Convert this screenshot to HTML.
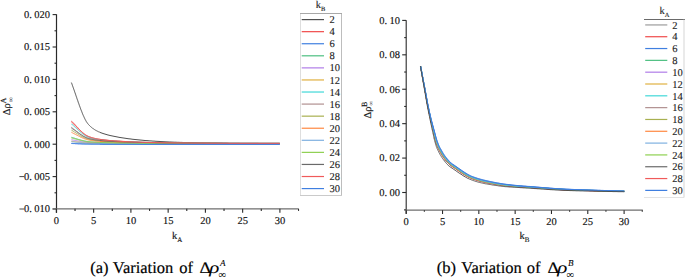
<!DOCTYPE html>
<html><head><meta charset="utf-8"><style>
html,body{margin:0;padding:0;background:#fff;}
svg{display:block;}
text{font-family:"Liberation Serif", serif;fill:#111;text-rendering:geometricPrecision;}
.tk{font-size:10.5px;fill:#111;stroke:#111;stroke-width:0.15px;}
.lg{font-size:10.5px;fill:#222;stroke:#222;stroke-width:0.12px;}
.al{font-size:10.5px;fill:#111;stroke:#111;stroke-width:0.15px;}
.al2{fill:#333;}
.cap{font-size:16.5px;fill:#000;stroke:#000;stroke-width:0.18px;}
</style></head><body>
<svg width="685" height="277" viewBox="0 0 685 277">
<rect width="685" height="277" fill="#fff"/>
<line x1="56.5" y1="14.3" x2="56.5" y2="212.8" stroke="#2a2a2a" stroke-width="1.2"/>
<line x1="52.6" y1="14.60" x2="56.5" y2="14.60" stroke="#2a2a2a" stroke-width="1.1"/>
<line x1="54.5" y1="30.80" x2="56.5" y2="30.80" stroke="#2a2a2a" stroke-width="1.1"/>
<line x1="52.6" y1="47.00" x2="56.5" y2="47.00" stroke="#2a2a2a" stroke-width="1.1"/>
<line x1="54.5" y1="63.20" x2="56.5" y2="63.20" stroke="#2a2a2a" stroke-width="1.1"/>
<line x1="52.6" y1="79.40" x2="56.5" y2="79.40" stroke="#2a2a2a" stroke-width="1.1"/>
<line x1="54.5" y1="95.60" x2="56.5" y2="95.60" stroke="#2a2a2a" stroke-width="1.1"/>
<line x1="52.6" y1="111.80" x2="56.5" y2="111.80" stroke="#2a2a2a" stroke-width="1.1"/>
<line x1="54.5" y1="128.00" x2="56.5" y2="128.00" stroke="#2a2a2a" stroke-width="1.1"/>
<line x1="52.6" y1="144.20" x2="56.5" y2="144.20" stroke="#2a2a2a" stroke-width="1.1"/>
<line x1="54.5" y1="160.40" x2="56.5" y2="160.40" stroke="#2a2a2a" stroke-width="1.1"/>
<line x1="52.6" y1="176.60" x2="56.5" y2="176.60" stroke="#2a2a2a" stroke-width="1.1"/>
<line x1="54.5" y1="192.80" x2="56.5" y2="192.80" stroke="#2a2a2a" stroke-width="1.1"/>
<line x1="52.6" y1="209.00" x2="56.5" y2="209.00" stroke="#2a2a2a" stroke-width="1.1"/>
<text x="50" y="17.90" text-anchor="end" class="tk">0.<tspan dx="2.4">020</tspan></text>
<text x="50" y="50.30" text-anchor="end" class="tk">0.<tspan dx="2.4">015</tspan></text>
<text x="50" y="82.70" text-anchor="end" class="tk">0.<tspan dx="2.4">010</tspan></text>
<text x="50" y="115.10" text-anchor="end" class="tk">0.<tspan dx="2.4">005</tspan></text>
<text x="50" y="147.50" text-anchor="end" class="tk">0.<tspan dx="2.4">000</tspan></text>
<text x="50" y="179.90" text-anchor="end" class="tk">0.<tspan dx="2.4">005</tspan></text>
<line x1="19.4" y1="176.60" x2="24.2" y2="176.60" stroke="#333" stroke-width="0.9"/>
<text x="50" y="212.30" text-anchor="end" class="tk">0.<tspan dx="2.4">010</tspan></text>
<line x1="19.4" y1="209.00" x2="24.2" y2="209.00" stroke="#333" stroke-width="0.9"/>
<line x1="52.6" y1="208.8" x2="298.6" y2="208.8" stroke="#6e6e6e" stroke-width="1.3"/>
<line x1="56.40" y1="208.8" x2="56.40" y2="212.8" stroke="#2a2a2a" stroke-width="1.1"/>
<line x1="75.03" y1="208.8" x2="75.03" y2="210.9" stroke="#2a2a2a" stroke-width="1.1"/>
<text x="56.40" y="224.2" text-anchor="middle" class="tk">0</text>
<line x1="93.65" y1="208.8" x2="93.65" y2="212.8" stroke="#2a2a2a" stroke-width="1.1"/>
<line x1="112.28" y1="208.8" x2="112.28" y2="210.9" stroke="#2a2a2a" stroke-width="1.1"/>
<text x="93.65" y="224.2" text-anchor="middle" class="tk">5</text>
<line x1="130.90" y1="208.8" x2="130.90" y2="212.8" stroke="#2a2a2a" stroke-width="1.1"/>
<line x1="149.53" y1="208.8" x2="149.53" y2="210.9" stroke="#2a2a2a" stroke-width="1.1"/>
<text x="130.90" y="224.2" text-anchor="middle" class="tk">10</text>
<line x1="168.15" y1="208.8" x2="168.15" y2="212.8" stroke="#2a2a2a" stroke-width="1.1"/>
<line x1="186.78" y1="208.8" x2="186.78" y2="210.9" stroke="#2a2a2a" stroke-width="1.1"/>
<text x="168.15" y="224.2" text-anchor="middle" class="tk">15</text>
<line x1="205.40" y1="208.8" x2="205.40" y2="212.8" stroke="#2a2a2a" stroke-width="1.1"/>
<line x1="224.03" y1="208.8" x2="224.03" y2="210.9" stroke="#2a2a2a" stroke-width="1.1"/>
<text x="205.40" y="224.2" text-anchor="middle" class="tk">20</text>
<line x1="242.65" y1="208.8" x2="242.65" y2="212.8" stroke="#2a2a2a" stroke-width="1.1"/>
<line x1="261.27" y1="208.8" x2="261.27" y2="210.9" stroke="#2a2a2a" stroke-width="1.1"/>
<text x="242.65" y="224.2" text-anchor="middle" class="tk">25</text>
<line x1="279.90" y1="208.8" x2="279.90" y2="212.8" stroke="#2a2a2a" stroke-width="1.1"/>
<line x1="298.52" y1="208.8" x2="298.52" y2="210.9" stroke="#2a2a2a" stroke-width="1.1"/>
<text x="279.90" y="224.2" text-anchor="middle" class="tk">30</text>
<text x="172" y="238.8" class="al">k<tspan dy="3.3" font-size="7">A</tspan></text>
<g transform="translate(9.9,115.3) rotate(-90)"><text x="0" y="0" class="al">Δρ<tspan font-size="8" dy="-4.4" dx="-0.3">A</tspan></text></g>
<g transform="translate(12.6,102.3) rotate(-90)"><text x="0" y="0" style="font-size:7px" class="al2">∞</text></g>
<path d="M71.4,82.6 71.7,83.3 71.9,84.0 72.2,84.7 72.4,85.4 72.7,86.1 72.9,86.8 73.2,87.5 73.4,88.2 73.7,88.9 73.9,89.6 74.2,90.3 74.4,91.1 74.7,91.8 74.9,92.5 75.2,93.2 75.4,94.0 75.7,94.7 75.9,95.4 76.2,96.2 76.4,96.9 76.7,97.6 76.9,98.4 77.2,99.1 77.4,99.8 77.7,100.5 77.9,101.2 78.2,102.0 78.4,102.7 78.7,103.4 78.9,104.1 79.2,104.8 79.4,105.5 79.7,106.2 79.9,106.9 80.2,107.6 80.4,108.2 80.7,108.9 80.9,109.6 81.2,110.2 81.4,110.9 81.7,111.5 81.9,112.1 82.2,112.8 82.4,113.4 82.7,114.0 82.9,114.6 83.2,115.2 83.4,115.7 83.7,116.3 83.9,116.8 84.2,117.4 84.4,117.9 84.7,118.5 84.9,119.0 85.2,119.5 85.4,119.9 85.7,120.4 85.9,120.8 86.2,121.3 86.4,121.7 86.7,122.0 86.9,122.4 87.2,122.8 87.4,123.1 87.7,123.5 87.9,123.8 88.2,124.1 88.4,124.4 88.7,124.7 88.9,124.9 89.2,125.2 89.4,125.5 89.7,125.7 89.9,125.9 90.2,126.2 90.4,126.4 90.7,126.7 90.9,126.9 91.2,127.1 91.4,127.3 91.7,127.5 91.9,127.7 92.2,127.9 92.4,128.1 92.7,128.3 92.9,128.5 93.2,128.7 93.4,128.9 93.7,129.0 93.9,129.2 94.2,129.4 94.4,129.5 94.7,129.7 94.9,129.8 95.2,130.0 95.4,130.1 95.7,130.3 95.9,130.4 96.2,130.5 96.4,130.7 96.7,130.8 96.9,130.9 97.2,131.1 97.4,131.2 97.7,131.3 97.9,131.4 98.2,131.6 98.4,131.7 98.7,131.8 98.9,131.9 99.2,132.0 99.4,132.1 99.7,132.2 99.9,132.3 100.0,132.4 101.0,132.8 102.0,133.1 103.0,133.5 104.0,133.8 105.0,134.1 106.0,134.4 107.0,134.7 108.0,135.0 109.0,135.2 110.0,135.5 111.0,135.7 112.0,135.9 113.0,136.1 114.0,136.3 115.0,136.5 116.0,136.7 117.0,136.9 118.0,137.1 119.0,137.3 120.0,137.5 121.0,137.6 122.0,137.8 123.0,137.9 124.0,138.1 125.0,138.2 126.0,138.4 127.0,138.5 128.0,138.7 129.0,138.8 130.0,138.9 131.0,139.0 132.0,139.2 133.0,139.3 134.0,139.4 135.0,139.5 136.0,139.6 137.0,139.7 138.0,139.8 139.0,139.9 140.0,140.0 141.0,140.1 142.0,140.2 143.0,140.3 144.0,140.4 145.0,140.5 146.0,140.6 147.0,140.6 148.0,140.7 149.0,140.8 150.0,140.9 151.0,140.9 152.0,141.0 153.0,141.1 154.0,141.1 155.0,141.2 156.0,141.3 157.0,141.3 158.0,141.4 159.0,141.4 160.0,141.5 161.0,141.6 162.0,141.6 163.0,141.7 164.0,141.7 165.0,141.8 166.0,141.8 167.0,141.9 168.0,141.9 169.0,142.0 170.0,142.0 171.0,142.0 172.0,142.1 173.0,142.1 174.0,142.2 175.0,142.2 176.0,142.2 177.0,142.3 178.0,142.3 179.0,142.3 180.0,142.4 181.0,142.4 182.0,142.4 183.0,142.5 184.0,142.5 185.0,142.5 186.0,142.6 187.0,142.6 188.0,142.6 189.0,142.6 190.0,142.7 191.0,142.7 192.0,142.7 193.0,142.7 194.0,142.8 195.0,142.8 196.0,142.8 197.0,142.8 198.0,142.8 199.0,142.9 200.0,142.9 201.0,142.9 202.0,142.9 203.0,142.9 204.0,143.0 205.0,143.0 206.0,143.0 207.0,143.0 208.0,143.0 209.0,143.0 210.0,143.0 211.0,143.1 212.0,143.1 213.0,143.1 214.0,143.1 215.0,143.1 216.0,143.1 217.0,143.1 218.0,143.2 219.0,143.2 220.0,143.2 221.0,143.2 222.0,143.2 223.0,143.2 224.0,143.2 225.0,143.2 226.0,143.2 227.0,143.2 228.0,143.3 229.0,143.3 230.0,143.3 231.0,143.3 232.0,143.3 233.0,143.3 234.0,143.3 235.0,143.3 236.0,143.3 237.0,143.3 238.0,143.3 239.0,143.3 240.0,143.4 241.0,143.4 242.0,143.4 243.0,143.4 244.0,143.4 245.0,143.4 246.0,143.4 247.0,143.4 248.0,143.4 249.0,143.4 250.0,143.4 251.0,143.4 252.0,143.4 253.0,143.4 254.0,143.4 255.0,143.4 256.0,143.4 257.0,143.4 258.0,143.4 259.0,143.5 260.0,143.5 261.0,143.5 262.0,143.5 263.0,143.5 264.0,143.5 265.0,143.5 266.0,143.5 267.0,143.5 268.0,143.5 269.0,143.5 270.0,143.5 271.0,143.5 272.0,143.5 273.0,143.5 274.0,143.5 275.0,143.5 276.0,143.5 277.0,143.5 278.0,143.5 279.0,143.5 279.8,143.5" fill="none" stroke="#505050" stroke-width="1"/>
<path d="M71.4,121.0 71.7,121.2 71.9,121.5 72.2,121.8 72.4,122.0 72.7,122.3 72.9,122.5 73.2,122.8 73.4,123.0 73.7,123.3 73.9,123.6 74.2,123.8 74.4,124.1 74.7,124.4 74.9,124.6 75.2,124.9 75.4,125.2 75.7,125.4 75.9,125.7 76.2,126.0 76.4,126.3 76.7,126.5 76.9,126.8 77.2,127.1 77.4,127.3 77.7,127.6 77.9,127.9 78.2,128.1 78.4,128.4 78.7,128.6 78.9,128.9 79.2,129.2 79.4,129.4 79.7,129.7 79.9,129.9 80.2,130.2 80.4,130.4 80.7,130.7 80.9,130.9 81.2,131.2 81.4,131.4 81.7,131.6 81.9,131.9 82.2,132.1 82.4,132.3 82.7,132.6 82.9,132.8 83.2,133.0 83.4,133.2 83.7,133.4 83.9,133.6 84.2,133.8 84.4,134.0 84.7,134.2 84.9,134.4 85.2,134.6 85.4,134.7 85.7,134.9 85.9,135.1 86.2,135.2 86.4,135.4 86.7,135.5 86.9,135.7 87.2,135.8 87.4,135.9 87.7,136.0 87.9,136.2 88.2,136.3 88.4,136.4 88.7,136.5 88.9,136.6 89.2,136.7 89.4,136.8 89.7,136.9 89.9,137.0 90.2,137.1 90.4,137.1 90.7,137.2 90.9,137.3 91.2,137.4 91.4,137.5 91.7,137.5 91.9,137.6 92.2,137.7 92.4,137.8 92.7,137.8 92.9,137.9 93.2,138.0 93.4,138.0 93.7,138.1 93.9,138.2 94.2,138.2 94.4,138.3 94.7,138.3 94.9,138.4 95.2,138.5 95.4,138.5 95.7,138.6 95.9,138.6 96.2,138.7 96.4,138.7 96.7,138.8 96.9,138.8 97.2,138.9 97.4,138.9 97.7,138.9 97.9,139.0 98.2,139.0 98.4,139.1 98.7,139.1 98.9,139.2 99.2,139.2 99.4,139.2 99.7,139.3 99.9,139.3 100.0,139.3 101.0,139.5 102.0,139.6 103.0,139.7 104.0,139.9 105.0,140.0 106.0,140.1 107.0,140.2 108.0,140.3 109.0,140.4 110.0,140.5 111.0,140.6 112.0,140.6 113.0,140.7 114.0,140.8 115.0,140.9 116.0,140.9 117.0,141.0 118.0,141.1 119.0,141.1 120.0,141.2 121.0,141.3 122.0,141.3 123.0,141.4 124.0,141.4 125.0,141.5 126.0,141.6 127.0,141.6 128.0,141.7 129.0,141.7 130.0,141.7 131.0,141.8 132.0,141.8 133.0,141.9 134.0,141.9 135.0,142.0 136.0,142.0 137.0,142.0 138.0,142.1 139.0,142.1 140.0,142.2 141.0,142.2 142.0,142.2 143.0,142.3 144.0,142.3 145.0,142.3 146.0,142.4 147.0,142.4 148.0,142.4 149.0,142.4 150.0,142.5 151.0,142.5 152.0,142.5 153.0,142.5 154.0,142.6 155.0,142.6 156.0,142.6 157.0,142.6 158.0,142.7 159.0,142.7 160.0,142.7 161.0,142.7 162.0,142.7 163.0,142.8 164.0,142.8 165.0,142.8 166.0,142.8 167.0,142.8 168.0,142.8 169.0,142.9 170.0,142.9 171.0,142.9 172.0,142.9 173.0,142.9 174.0,142.9 175.0,143.0 176.0,143.0 177.0,143.0 178.0,143.0 179.0,143.0 180.0,143.0 181.0,143.0 182.0,143.0 183.0,143.1 184.0,143.1 185.0,143.1 186.0,143.1 187.0,143.1 188.0,143.1 189.0,143.1 190.0,143.1 191.0,143.1 192.0,143.1 193.0,143.2 194.0,143.2 195.0,143.2 196.0,143.2 197.0,143.2 198.0,143.2 199.0,143.2 200.0,143.2 201.0,143.2 202.0,143.2 203.0,143.2 204.0,143.2 205.0,143.2 206.0,143.2 207.0,143.3 208.0,143.3 209.0,143.3 210.0,143.3 211.0,143.3 212.0,143.3 213.0,143.3 214.0,143.3 215.0,143.3 216.0,143.3 217.0,143.3 218.0,143.3 219.0,143.3 220.0,143.3 221.0,143.3 222.0,143.3 223.0,143.3 224.0,143.3 225.0,143.3 226.0,143.3 227.0,143.3 228.0,143.3 229.0,143.4 230.0,143.4 231.0,143.4 232.0,143.4 233.0,143.4 234.0,143.4 235.0,143.4 236.0,143.4 237.0,143.4 238.0,143.4 239.0,143.4 240.0,143.4 241.0,143.4 242.0,143.4 243.0,143.4 244.0,143.4 245.0,143.4 246.0,143.4 247.0,143.4 248.0,143.4 249.0,143.4 250.0,143.4 251.0,143.4 252.0,143.4 253.0,143.4 254.0,143.4 255.0,143.4 256.0,143.4 257.0,143.4 258.0,143.4 259.0,143.4 260.0,143.4 261.0,143.4 262.0,143.4 263.0,143.4 264.0,143.4 265.0,143.4 266.0,143.4 267.0,143.4 268.0,143.4 269.0,143.4 270.0,143.4 271.0,143.4 272.0,143.4 273.0,143.4 274.0,143.4 275.0,143.4 276.0,143.4 277.0,143.4 278.0,143.4 279.0,143.4 279.8,143.4" fill="none" stroke="#f04a4a" stroke-width="1"/>
<path d="M71.4,143.4 71.7,143.4 71.9,143.4 72.2,143.4 72.4,143.4 72.7,143.4 72.9,143.5 73.2,143.5 73.4,143.5 73.7,143.5 73.9,143.5 74.2,143.5 74.4,143.5 74.7,143.5 74.9,143.5 75.2,143.5 75.4,143.5 75.7,143.6 75.9,143.6 76.2,143.6 76.4,143.6 76.7,143.6 76.9,143.6 77.2,143.6 77.4,143.6 77.7,143.6 77.9,143.6 78.2,143.7 78.4,143.7 78.7,143.7 78.9,143.7 79.2,143.7 79.4,143.7 79.7,143.7 79.9,143.7 80.2,143.7 80.4,143.7 80.7,143.7 80.9,143.8 81.2,143.8 81.4,143.8 81.7,143.8 81.9,143.8 82.2,143.8 82.4,143.8 82.7,143.8 82.9,143.8 83.2,143.8 83.4,143.8 83.7,143.8 83.9,143.9 84.2,143.9 84.4,143.9 84.7,143.9 84.9,143.9 85.2,143.9 85.4,143.9 85.7,143.9 85.9,143.9 86.2,143.9 86.4,143.9 86.7,143.9 86.9,143.9 87.2,143.9 87.4,143.9 87.7,143.9 87.9,143.9 88.2,143.9 88.4,143.9 88.7,144.0 88.9,144.0 89.2,144.0 89.4,144.0 89.7,144.0 89.9,144.0 90.2,144.0 90.4,144.0 90.7,144.0 90.9,144.0 91.2,144.0 91.4,144.0 91.7,144.0 91.9,144.0 92.2,144.0 92.4,144.0 92.7,144.0 92.9,144.0 93.2,144.0 93.4,144.0 93.7,144.0 93.9,144.0 94.2,144.0 94.4,144.0 94.7,144.0 94.9,144.0 95.2,144.0 95.4,144.0 95.7,144.0 95.9,144.0 96.2,144.0 96.4,144.0 96.7,144.0 96.9,144.0 97.2,144.0 97.4,144.0 97.7,144.0 97.9,144.0 98.2,144.0 98.4,144.0 98.7,144.0 98.9,144.0 99.2,144.0 99.4,144.1 99.7,144.1 99.9,144.1 100.0,144.1 101.0,144.1 102.0,144.1 103.0,144.1 104.0,144.1 105.0,144.1 106.0,144.1 107.0,144.1 108.0,144.1 109.0,144.1 110.0,144.1 111.0,144.1 112.0,144.1 113.0,144.1 114.0,144.1 115.0,144.1 116.0,144.1 117.0,144.1 118.0,144.1 119.0,144.1 120.0,144.1 121.0,144.1 122.0,144.1 123.0,144.1 124.0,144.1 125.0,144.1 126.0,144.1 127.0,144.1 128.0,144.1 129.0,144.1 130.0,144.1 131.0,144.1 132.0,144.1 133.0,144.1 134.0,144.1 135.0,144.1 136.0,144.2 137.0,144.2 138.0,144.2 139.0,144.2 140.0,144.2 141.0,144.2 142.0,144.2 143.0,144.2 144.0,144.2 145.0,144.2 146.0,144.2 147.0,144.2 148.0,144.2 149.0,144.2 150.0,144.2 151.0,144.2 152.0,144.2 153.0,144.2 154.0,144.2 155.0,144.2 156.0,144.2 157.0,144.2 158.0,144.2 159.0,144.2 160.0,144.2 161.0,144.2 162.0,144.2 163.0,144.2 164.0,144.2 165.0,144.2 166.0,144.2 167.0,144.2 168.0,144.2 169.0,144.2 170.0,144.2 171.0,144.2 172.0,144.2 173.0,144.2 174.0,144.2 175.0,144.2 176.0,144.2 177.0,144.2 178.0,144.2 179.0,144.2 180.0,144.2 181.0,144.2 182.0,144.2 183.0,144.2 184.0,144.2 185.0,144.2 186.0,144.2 187.0,144.2 188.0,144.2 189.0,144.2 190.0,144.2 191.0,144.2 192.0,144.2 193.0,144.2 194.0,144.2 195.0,144.2 196.0,144.2 197.0,144.2 198.0,144.2 199.0,144.2 200.0,144.2 201.0,144.2 202.0,144.2 203.0,144.2 204.0,144.2 205.0,144.2 206.0,144.2 207.0,144.2 208.0,144.2 209.0,144.2 210.0,144.2 211.0,144.2 212.0,144.2 213.0,144.2 214.0,144.2 215.0,144.2 216.0,144.2 217.0,144.2 218.0,144.2 219.0,144.2 220.0,144.2 221.0,144.2 222.0,144.2 223.0,144.2 224.0,144.2 225.0,144.2 226.0,144.2 227.0,144.2 228.0,144.2 229.0,144.2 230.0,144.2 231.0,144.2 232.0,144.2 233.0,144.2 234.0,144.2 235.0,144.2 236.0,144.2 237.0,144.2 238.0,144.2 239.0,144.2 240.0,144.2 241.0,144.2 242.0,144.2 243.0,144.2 244.0,144.2 245.0,144.2 246.0,144.2 247.0,144.2 248.0,144.2 249.0,144.2 250.0,144.2 251.0,144.2 252.0,144.2 253.0,144.2 254.0,144.2 255.0,144.2 256.0,144.2 257.0,144.2 258.0,144.2 259.0,144.2 260.0,144.2 261.0,144.2 262.0,144.2 263.0,144.2 264.0,144.2 265.0,144.2 266.0,144.2 267.0,144.2 268.0,144.2 269.0,144.2 270.0,144.2 271.0,144.2 272.0,144.2 273.0,144.2 274.0,144.2 275.0,144.2 276.0,144.2 277.0,144.2 278.0,144.2 279.0,144.2 279.8,144.2" fill="none" stroke="#3f7fe0" stroke-width="1"/>
<path d="M71.4,137.3 71.7,137.4 71.9,137.4 72.2,137.5 72.4,137.6 72.7,137.7 72.9,137.7 73.2,137.8 73.4,137.9 73.7,137.9 73.9,138.0 74.2,138.1 74.4,138.2 74.7,138.2 74.9,138.3 75.2,138.4 75.4,138.5 75.7,138.6 75.9,138.6 76.2,138.7 76.4,138.8 76.7,138.9 76.9,138.9 77.2,139.0 77.4,139.1 77.7,139.2 77.9,139.2 78.2,139.3 78.4,139.4 78.7,139.5 78.9,139.5 79.2,139.6 79.4,139.7 79.7,139.7 79.9,139.8 80.2,139.9 80.4,140.0 80.7,140.0 80.9,140.1 81.2,140.2 81.4,140.2 81.7,140.3 81.9,140.4 82.2,140.4 82.4,140.5 82.7,140.5 82.9,140.6 83.2,140.7 83.4,140.7 83.7,140.8 83.9,140.8 84.2,140.9 84.4,141.0 84.7,141.0 84.9,141.1 85.2,141.1 85.4,141.2 85.7,141.2 85.9,141.3 86.2,141.3 86.4,141.3 86.7,141.4 86.9,141.4 87.2,141.5 87.4,141.5 87.7,141.5 87.9,141.6 88.2,141.6 88.4,141.6 88.7,141.7 88.9,141.7 89.2,141.7 89.4,141.7 89.7,141.8 89.9,141.8 90.2,141.8 90.4,141.8 90.7,141.9 90.9,141.9 91.2,141.9 91.4,141.9 91.7,142.0 91.9,142.0 92.2,142.0 92.4,142.0 92.7,142.0 92.9,142.1 93.2,142.1 93.4,142.1 93.7,142.1 93.9,142.1 94.2,142.1 94.4,142.2 94.7,142.2 94.9,142.2 95.2,142.2 95.4,142.2 95.7,142.2 95.9,142.3 96.2,142.3 96.4,142.3 96.7,142.3 96.9,142.3 97.2,142.3 97.4,142.3 97.7,142.3 97.9,142.4 98.2,142.4 98.4,142.4 98.7,142.4 98.9,142.4 99.2,142.4 99.4,142.4 99.7,142.4 99.9,142.5 100.0,142.5 101.0,142.5 102.0,142.5 103.0,142.6 104.0,142.6 105.0,142.6 106.0,142.7 107.0,142.7 108.0,142.7 109.0,142.8 110.0,142.8 111.0,142.8 112.0,142.8 113.0,142.8 114.0,142.9 115.0,142.9 116.0,142.9 117.0,142.9 118.0,142.9 119.0,143.0 120.0,143.0 121.0,143.0 122.0,143.0 123.0,143.0 124.0,143.1 125.0,143.1 126.0,143.1 127.0,143.1 128.0,143.1 129.0,143.1 130.0,143.1 131.0,143.1 132.0,143.2 133.0,143.2 134.0,143.2 135.0,143.2 136.0,143.2 137.0,143.2 138.0,143.2 139.0,143.2 140.0,143.2 141.0,143.3 142.0,143.3 143.0,143.3 144.0,143.3 145.0,143.3 146.0,143.3 147.0,143.3 148.0,143.3 149.0,143.3 150.0,143.3 151.0,143.3 152.0,143.4 153.0,143.4 154.0,143.4 155.0,143.4 156.0,143.4 157.0,143.4 158.0,143.4 159.0,143.4 160.0,143.4 161.0,143.4 162.0,143.4 163.0,143.4 164.0,143.4 165.0,143.4 166.0,143.4 167.0,143.4 168.0,143.4 169.0,143.4 170.0,143.5 171.0,143.5 172.0,143.5 173.0,143.5 174.0,143.5 175.0,143.5 176.0,143.5 177.0,143.5 178.0,143.5 179.0,143.5 180.0,143.5 181.0,143.5 182.0,143.5 183.0,143.5 184.0,143.5 185.0,143.5 186.0,143.5 187.0,143.5 188.0,143.5 189.0,143.5 190.0,143.5 191.0,143.5 192.0,143.5 193.0,143.5 194.0,143.5 195.0,143.5 196.0,143.5 197.0,143.5 198.0,143.5 199.0,143.5 200.0,143.5 201.0,143.5 202.0,143.5 203.0,143.6 204.0,143.6 205.0,143.6 206.0,143.6 207.0,143.6 208.0,143.6 209.0,143.6 210.0,143.6 211.0,143.6 212.0,143.6 213.0,143.6 214.0,143.6 215.0,143.6 216.0,143.6 217.0,143.6 218.0,143.6 219.0,143.6 220.0,143.6 221.0,143.6 222.0,143.6 223.0,143.6 224.0,143.6 225.0,143.6 226.0,143.6 227.0,143.6 228.0,143.6 229.0,143.6 230.0,143.6 231.0,143.6 232.0,143.6 233.0,143.6 234.0,143.6 235.0,143.6 236.0,143.6 237.0,143.6 238.0,143.6 239.0,143.6 240.0,143.6 241.0,143.6 242.0,143.6 243.0,143.6 244.0,143.6 245.0,143.6 246.0,143.6 247.0,143.6 248.0,143.6 249.0,143.6 250.0,143.6 251.0,143.6 252.0,143.6 253.0,143.6 254.0,143.6 255.0,143.6 256.0,143.6 257.0,143.6 258.0,143.6 259.0,143.6 260.0,143.6 261.0,143.6 262.0,143.6 263.0,143.6 264.0,143.6 265.0,143.6 266.0,143.6 267.0,143.6 268.0,143.6 269.0,143.6 270.0,143.6 271.0,143.6 272.0,143.6 273.0,143.6 274.0,143.6 275.0,143.6 276.0,143.6 277.0,143.6 278.0,143.6 279.0,143.6 279.8,143.6" fill="none" stroke="#4cbf80" stroke-width="1"/>
<path d="M71.4,139.8 71.7,139.8 71.9,139.8 72.2,139.9 72.4,139.9 72.7,140.0 72.9,140.0 73.2,140.1 73.4,140.1 73.7,140.2 73.9,140.2 74.2,140.3 74.4,140.3 74.7,140.3 74.9,140.4 75.2,140.4 75.4,140.5 75.7,140.5 75.9,140.6 76.2,140.6 76.4,140.7 76.7,140.7 76.9,140.8 77.2,140.8 77.4,140.9 77.7,140.9 77.9,141.0 78.2,141.0 78.4,141.1 78.7,141.1 78.9,141.1 79.2,141.2 79.4,141.2 79.7,141.3 79.9,141.3 80.2,141.4 80.4,141.4 80.7,141.5 80.9,141.5 81.2,141.5 81.4,141.6 81.7,141.6 81.9,141.7 82.2,141.7 82.4,141.7 82.7,141.8 82.9,141.8 83.2,141.9 83.4,141.9 83.7,141.9 83.9,142.0 84.2,142.0 84.4,142.0 84.7,142.1 84.9,142.1 85.2,142.1 85.4,142.2 85.7,142.2 85.9,142.2 86.2,142.3 86.4,142.3 86.7,142.3 86.9,142.3 87.2,142.4 87.4,142.4 87.7,142.4 87.9,142.4 88.2,142.4 88.4,142.5 88.7,142.5 88.9,142.5 89.2,142.5 89.4,142.5 89.7,142.5 89.9,142.6 90.2,142.6 90.4,142.6 90.7,142.6 90.9,142.6 91.2,142.6 91.4,142.7 91.7,142.7 91.9,142.7 92.2,142.7 92.4,142.7 92.7,142.7 92.9,142.7 93.2,142.7 93.4,142.8 93.7,142.8 93.9,142.8 94.2,142.8 94.4,142.8 94.7,142.8 94.9,142.8 95.2,142.8 95.4,142.8 95.7,142.8 95.9,142.9 96.2,142.9 96.4,142.9 96.7,142.9 96.9,142.9 97.2,142.9 97.4,142.9 97.7,142.9 97.9,142.9 98.2,142.9 98.4,142.9 98.7,142.9 98.9,143.0 99.2,143.0 99.4,143.0 99.7,143.0 99.9,143.0 100.0,143.0 101.0,143.0 102.0,143.0 103.0,143.1 104.0,143.1 105.0,143.1 106.0,143.1 107.0,143.1 108.0,143.2 109.0,143.2 110.0,143.2 111.0,143.2 112.0,143.2 113.0,143.2 114.0,143.2 115.0,143.3 116.0,143.3 117.0,143.3 118.0,143.3 119.0,143.3 120.0,143.3 121.0,143.3 122.0,143.3 123.0,143.3 124.0,143.4 125.0,143.4 126.0,143.4 127.0,143.4 128.0,143.4 129.0,143.4 130.0,143.4 131.0,143.4 132.0,143.4 133.0,143.4 134.0,143.4 135.0,143.4 136.0,143.5 137.0,143.5 138.0,143.5 139.0,143.5 140.0,143.5 141.0,143.5 142.0,143.5 143.0,143.5 144.0,143.5 145.0,143.5 146.0,143.5 147.0,143.5 148.0,143.5 149.0,143.5 150.0,143.5 151.0,143.5 152.0,143.5 153.0,143.5 154.0,143.6 155.0,143.6 156.0,143.6 157.0,143.6 158.0,143.6 159.0,143.6 160.0,143.6 161.0,143.6 162.0,143.6 163.0,143.6 164.0,143.6 165.0,143.6 166.0,143.6 167.0,143.6 168.0,143.6 169.0,143.6 170.0,143.6 171.0,143.6 172.0,143.6 173.0,143.6 174.0,143.6 175.0,143.6 176.0,143.6 177.0,143.6 178.0,143.6 179.0,143.6 180.0,143.6 181.0,143.6 182.0,143.6 183.0,143.6 184.0,143.6 185.0,143.6 186.0,143.6 187.0,143.6 188.0,143.6 189.0,143.7 190.0,143.7 191.0,143.7 192.0,143.7 193.0,143.7 194.0,143.7 195.0,143.7 196.0,143.7 197.0,143.7 198.0,143.7 199.0,143.7 200.0,143.7 201.0,143.7 202.0,143.7 203.0,143.7 204.0,143.7 205.0,143.7 206.0,143.7 207.0,143.7 208.0,143.7 209.0,143.7 210.0,143.7 211.0,143.7 212.0,143.7 213.0,143.7 214.0,143.7 215.0,143.7 216.0,143.7 217.0,143.7 218.0,143.7 219.0,143.7 220.0,143.7 221.0,143.7 222.0,143.7 223.0,143.7 224.0,143.7 225.0,143.7 226.0,143.7 227.0,143.7 228.0,143.7 229.0,143.7 230.0,143.7 231.0,143.7 232.0,143.7 233.0,143.7 234.0,143.7 235.0,143.7 236.0,143.7 237.0,143.7 238.0,143.7 239.0,143.7 240.0,143.7 241.0,143.7 242.0,143.7 243.0,143.7 244.0,143.7 245.0,143.7 246.0,143.7 247.0,143.7 248.0,143.7 249.0,143.7 250.0,143.7 251.0,143.7 252.0,143.7 253.0,143.7 254.0,143.7 255.0,143.7 256.0,143.7 257.0,143.7 258.0,143.7 259.0,143.7 260.0,143.7 261.0,143.7 262.0,143.7 263.0,143.7 264.0,143.7 265.0,143.7 266.0,143.7 267.0,143.7 268.0,143.7 269.0,143.7 270.0,143.7 271.0,143.7 272.0,143.7 273.0,143.7 274.0,143.7 275.0,143.7 276.0,143.7 277.0,143.7 278.0,143.7 279.0,143.7 279.8,143.7" fill="none" stroke="#b07ce8" stroke-width="1"/>
<path d="M71.4,141.3 71.7,141.3 71.9,141.4 72.2,141.4 72.4,141.4 72.7,141.4 72.9,141.5 73.2,141.5 73.4,141.5 73.7,141.6 73.9,141.6 74.2,141.6 74.4,141.6 74.7,141.7 74.9,141.7 75.2,141.7 75.4,141.8 75.7,141.8 75.9,141.8 76.2,141.9 76.4,141.9 76.7,141.9 76.9,141.9 77.2,142.0 77.4,142.0 77.7,142.0 77.9,142.1 78.2,142.1 78.4,142.1 78.7,142.2 78.9,142.2 79.2,142.2 79.4,142.2 79.7,142.3 79.9,142.3 80.2,142.3 80.4,142.4 80.7,142.4 80.9,142.4 81.2,142.4 81.4,142.5 81.7,142.5 81.9,142.5 82.2,142.5 82.4,142.6 82.7,142.6 82.9,142.6 83.2,142.6 83.4,142.7 83.7,142.7 83.9,142.7 84.2,142.7 84.4,142.8 84.7,142.8 84.9,142.8 85.2,142.8 85.4,142.8 85.7,142.9 85.9,142.9 86.2,142.9 86.4,142.9 86.7,142.9 86.9,142.9 87.2,143.0 87.4,143.0 87.7,143.0 87.9,143.0 88.2,143.0 88.4,143.0 88.7,143.0 88.9,143.0 89.2,143.1 89.4,143.1 89.7,143.1 89.9,143.1 90.2,143.1 90.4,143.1 90.7,143.1 90.9,143.1 91.2,143.1 91.4,143.1 91.7,143.1 91.9,143.2 92.2,143.2 92.4,143.2 92.7,143.2 92.9,143.2 93.2,143.2 93.4,143.2 93.7,143.2 93.9,143.2 94.2,143.2 94.4,143.2 94.7,143.2 94.9,143.2 95.2,143.2 95.4,143.3 95.7,143.3 95.9,143.3 96.2,143.3 96.4,143.3 96.7,143.3 96.9,143.3 97.2,143.3 97.4,143.3 97.7,143.3 97.9,143.3 98.2,143.3 98.4,143.3 98.7,143.3 98.9,143.3 99.2,143.3 99.4,143.3 99.7,143.3 99.9,143.3 100.0,143.3 101.0,143.4 102.0,143.4 103.0,143.4 104.0,143.4 105.0,143.4 106.0,143.4 107.0,143.4 108.0,143.5 109.0,143.5 110.0,143.5 111.0,143.5 112.0,143.5 113.0,143.5 114.0,143.5 115.0,143.5 116.0,143.5 117.0,143.5 118.0,143.5 119.0,143.5 120.0,143.6 121.0,143.6 122.0,143.6 123.0,143.6 124.0,143.6 125.0,143.6 126.0,143.6 127.0,143.6 128.0,143.6 129.0,143.6 130.0,143.6 131.0,143.6 132.0,143.6 133.0,143.6 134.0,143.6 135.0,143.6 136.0,143.6 137.0,143.6 138.0,143.7 139.0,143.7 140.0,143.7 141.0,143.7 142.0,143.7 143.0,143.7 144.0,143.7 145.0,143.7 146.0,143.7 147.0,143.7 148.0,143.7 149.0,143.7 150.0,143.7 151.0,143.7 152.0,143.7 153.0,143.7 154.0,143.7 155.0,143.7 156.0,143.7 157.0,143.7 158.0,143.7 159.0,143.7 160.0,143.7 161.0,143.7 162.0,143.7 163.0,143.7 164.0,143.7 165.0,143.7 166.0,143.7 167.0,143.7 168.0,143.7 169.0,143.7 170.0,143.7 171.0,143.7 172.0,143.7 173.0,143.7 174.0,143.7 175.0,143.8 176.0,143.8 177.0,143.8 178.0,143.8 179.0,143.8 180.0,143.8 181.0,143.8 182.0,143.8 183.0,143.8 184.0,143.8 185.0,143.8 186.0,143.8 187.0,143.8 188.0,143.8 189.0,143.8 190.0,143.8 191.0,143.8 192.0,143.8 193.0,143.8 194.0,143.8 195.0,143.8 196.0,143.8 197.0,143.8 198.0,143.8 199.0,143.8 200.0,143.8 201.0,143.8 202.0,143.8 203.0,143.8 204.0,143.8 205.0,143.8 206.0,143.8 207.0,143.8 208.0,143.8 209.0,143.8 210.0,143.8 211.0,143.8 212.0,143.8 213.0,143.8 214.0,143.8 215.0,143.8 216.0,143.8 217.0,143.8 218.0,143.8 219.0,143.8 220.0,143.8 221.0,143.8 222.0,143.8 223.0,143.8 224.0,143.8 225.0,143.8 226.0,143.8 227.0,143.8 228.0,143.8 229.0,143.8 230.0,143.8 231.0,143.8 232.0,143.8 233.0,143.8 234.0,143.8 235.0,143.8 236.0,143.8 237.0,143.8 238.0,143.8 239.0,143.8 240.0,143.8 241.0,143.8 242.0,143.8 243.0,143.8 244.0,143.8 245.0,143.8 246.0,143.8 247.0,143.8 248.0,143.8 249.0,143.8 250.0,143.8 251.0,143.8 252.0,143.8 253.0,143.8 254.0,143.8 255.0,143.8 256.0,143.8 257.0,143.8 258.0,143.8 259.0,143.8 260.0,143.8 261.0,143.8 262.0,143.8 263.0,143.8 264.0,143.8 265.0,143.8 266.0,143.8 267.0,143.8 268.0,143.8 269.0,143.8 270.0,143.8 271.0,143.8 272.0,143.8 273.0,143.8 274.0,143.8 275.0,143.8 276.0,143.8 277.0,143.8 278.0,143.8 279.0,143.8 279.8,143.8" fill="none" stroke="#e0b040" stroke-width="1"/>
<path d="M71.4,123.9 71.7,124.1 71.9,124.3 72.2,124.6 72.4,124.8 72.7,125.0 72.9,125.2 73.2,125.4 73.4,125.7 73.7,125.9 73.9,126.1 74.2,126.4 74.4,126.6 74.7,126.8 74.9,127.1 75.2,127.3 75.4,127.5 75.7,127.8 75.9,128.0 76.2,128.2 76.4,128.5 76.7,128.7 76.9,128.9 77.2,129.1 77.4,129.4 77.7,129.6 77.9,129.8 78.2,130.1 78.4,130.3 78.7,130.5 78.9,130.8 79.2,131.0 79.4,131.2 79.7,131.4 79.9,131.6 80.2,131.9 80.4,132.1 80.7,132.3 80.9,132.5 81.2,132.7 81.4,132.9 81.7,133.1 81.9,133.3 82.2,133.5 82.4,133.7 82.7,133.9 82.9,134.1 83.2,134.3 83.4,134.5 83.7,134.6 83.9,134.8 84.2,135.0 84.4,135.2 84.7,135.3 84.9,135.5 85.2,135.7 85.4,135.8 85.7,136.0 85.9,136.1 86.2,136.2 86.4,136.4 86.7,136.5 86.9,136.6 87.2,136.7 87.4,136.8 87.7,136.9 87.9,137.0 88.2,137.1 88.4,137.2 88.7,137.3 88.9,137.4 89.2,137.5 89.4,137.6 89.7,137.6 89.9,137.7 90.2,137.8 90.4,137.9 90.7,138.0 90.9,138.0 91.2,138.1 91.4,138.2 91.7,138.2 91.9,138.3 92.2,138.4 92.4,138.4 92.7,138.5 92.9,138.5 93.2,138.6 93.4,138.7 93.7,138.7 93.9,138.8 94.2,138.8 94.4,138.9 94.7,138.9 94.9,139.0 95.2,139.0 95.4,139.1 95.7,139.1 95.9,139.2 96.2,139.2 96.4,139.2 96.7,139.3 96.9,139.3 97.2,139.4 97.4,139.4 97.7,139.4 97.9,139.5 98.2,139.5 98.4,139.6 98.7,139.6 98.9,139.6 99.2,139.7 99.4,139.7 99.7,139.7 99.9,139.8 100.0,139.8 101.0,139.9 102.0,140.0 103.0,140.1 104.0,140.2 105.0,140.3 106.0,140.4 107.0,140.5 108.0,140.6 109.0,140.7 110.0,140.8 111.0,140.8 112.0,140.9 113.0,141.0 114.0,141.0 115.0,141.1 116.0,141.2 117.0,141.2 118.0,141.3 119.0,141.3 120.0,141.4 121.0,141.5 122.0,141.5 123.0,141.6 124.0,141.6 125.0,141.7 126.0,141.7 127.0,141.7 128.0,141.8 129.0,141.8 130.0,141.9 131.0,141.9 132.0,141.9 133.0,142.0 134.0,142.0 135.0,142.1 136.0,142.1 137.0,142.1 138.0,142.2 139.0,142.2 140.0,142.2 141.0,142.3 142.0,142.3 143.0,142.3 144.0,142.3 145.0,142.4 146.0,142.4 147.0,142.4 148.0,142.4 149.0,142.5 150.0,142.5 151.0,142.5 152.0,142.5 153.0,142.6 154.0,142.6 155.0,142.6 156.0,142.6 157.0,142.6 158.0,142.7 159.0,142.7 160.0,142.7 161.0,142.7 162.0,142.7 163.0,142.7 164.0,142.8 165.0,142.8 166.0,142.8 167.0,142.8 168.0,142.8 169.0,142.8 170.0,142.9 171.0,142.9 172.0,142.9 173.0,142.9 174.0,142.9 175.0,142.9 176.0,142.9 177.0,142.9 178.0,142.9 179.0,143.0 180.0,143.0 181.0,143.0 182.0,143.0 183.0,143.0 184.0,143.0 185.0,143.0 186.0,143.0 187.0,143.0 188.0,143.0 189.0,143.1 190.0,143.1 191.0,143.1 192.0,143.1 193.0,143.1 194.0,143.1 195.0,143.1 196.0,143.1 197.0,143.1 198.0,143.1 199.0,143.1 200.0,143.1 201.0,143.1 202.0,143.1 203.0,143.2 204.0,143.2 205.0,143.2 206.0,143.2 207.0,143.2 208.0,143.2 209.0,143.2 210.0,143.2 211.0,143.2 212.0,143.2 213.0,143.2 214.0,143.2 215.0,143.2 216.0,143.2 217.0,143.2 218.0,143.2 219.0,143.2 220.0,143.2 221.0,143.2 222.0,143.2 223.0,143.2 224.0,143.2 225.0,143.2 226.0,143.2 227.0,143.3 228.0,143.3 229.0,143.3 230.0,143.3 231.0,143.3 232.0,143.3 233.0,143.3 234.0,143.3 235.0,143.3 236.0,143.3 237.0,143.3 238.0,143.3 239.0,143.3 240.0,143.3 241.0,143.3 242.0,143.3 243.0,143.3 244.0,143.3 245.0,143.3 246.0,143.3 247.0,143.3 248.0,143.3 249.0,143.3 250.0,143.3 251.0,143.3 252.0,143.3 253.0,143.3 254.0,143.3 255.0,143.3 256.0,143.3 257.0,143.3 258.0,143.3 259.0,143.3 260.0,143.3 261.0,143.3 262.0,143.3 263.0,143.3 264.0,143.3 265.0,143.3 266.0,143.3 267.0,143.3 268.0,143.3 269.0,143.3 270.0,143.3 271.0,143.3 272.0,143.3 273.0,143.3 274.0,143.3 275.0,143.3 276.0,143.3 277.0,143.3 278.0,143.3 279.0,143.3 279.8,143.3" fill="none" stroke="#40d8d8" stroke-width="1"/>
<path d="M71.4,127.3 71.7,127.5 71.9,127.7 72.2,127.8 72.4,128.0 72.7,128.2 72.9,128.4 73.2,128.6 73.4,128.8 73.7,129.0 73.9,129.1 74.2,129.3 74.4,129.5 74.7,129.7 74.9,129.9 75.2,130.1 75.4,130.3 75.7,130.5 75.9,130.7 76.2,130.9 76.4,131.1 76.7,131.3 76.9,131.5 77.2,131.7 77.4,131.8 77.7,132.0 77.9,132.2 78.2,132.4 78.4,132.6 78.7,132.8 78.9,133.0 79.2,133.2 79.4,133.4 79.7,133.5 79.9,133.7 80.2,133.9 80.4,134.1 80.7,134.3 80.9,134.4 81.2,134.6 81.4,134.8 81.7,134.9 81.9,135.1 82.2,135.3 82.4,135.4 82.7,135.6 82.9,135.8 83.2,135.9 83.4,136.1 83.7,136.2 83.9,136.4 84.2,136.5 84.4,136.7 84.7,136.8 84.9,136.9 85.2,137.1 85.4,137.2 85.7,137.3 85.9,137.4 86.2,137.5 86.4,137.6 86.7,137.7 86.9,137.8 87.2,137.9 87.4,138.0 87.7,138.1 87.9,138.2 88.2,138.3 88.4,138.4 88.7,138.4 88.9,138.5 89.2,138.6 89.4,138.6 89.7,138.7 89.9,138.8 90.2,138.8 90.4,138.9 90.7,139.0 90.9,139.0 91.2,139.1 91.4,139.1 91.7,139.2 91.9,139.2 92.2,139.3 92.4,139.4 92.7,139.4 92.9,139.5 93.2,139.5 93.4,139.5 93.7,139.6 93.9,139.6 94.2,139.7 94.4,139.7 94.7,139.8 94.9,139.8 95.2,139.8 95.4,139.9 95.7,139.9 95.9,140.0 96.2,140.0 96.4,140.0 96.7,140.1 96.9,140.1 97.2,140.1 97.4,140.2 97.7,140.2 97.9,140.2 98.2,140.3 98.4,140.3 98.7,140.3 98.9,140.4 99.2,140.4 99.4,140.4 99.7,140.4 99.9,140.5 100.0,140.5 101.0,140.6 102.0,140.7 103.0,140.8 104.0,140.9 105.0,140.9 106.0,141.0 107.0,141.1 108.0,141.2 109.0,141.2 110.0,141.3 111.0,141.4 112.0,141.4 113.0,141.5 114.0,141.5 115.0,141.6 116.0,141.6 117.0,141.7 118.0,141.7 119.0,141.8 120.0,141.8 121.0,141.9 122.0,141.9 123.0,142.0 124.0,142.0 125.0,142.0 126.0,142.1 127.0,142.1 128.0,142.1 129.0,142.2 130.0,142.2 131.0,142.2 132.0,142.3 133.0,142.3 134.0,142.3 135.0,142.4 136.0,142.4 137.0,142.4 138.0,142.5 139.0,142.5 140.0,142.5 141.0,142.5 142.0,142.6 143.0,142.6 144.0,142.6 145.0,142.6 146.0,142.6 147.0,142.7 148.0,142.7 149.0,142.7 150.0,142.7 151.0,142.7 152.0,142.8 153.0,142.8 154.0,142.8 155.0,142.8 156.0,142.8 157.0,142.9 158.0,142.9 159.0,142.9 160.0,142.9 161.0,142.9 162.0,142.9 163.0,142.9 164.0,143.0 165.0,143.0 166.0,143.0 167.0,143.0 168.0,143.0 169.0,143.0 170.0,143.0 171.0,143.0 172.0,143.0 173.0,143.1 174.0,143.1 175.0,143.1 176.0,143.1 177.0,143.1 178.0,143.1 179.0,143.1 180.0,143.1 181.0,143.1 182.0,143.1 183.0,143.2 184.0,143.2 185.0,143.2 186.0,143.2 187.0,143.2 188.0,143.2 189.0,143.2 190.0,143.2 191.0,143.2 192.0,143.2 193.0,143.2 194.0,143.2 195.0,143.2 196.0,143.2 197.0,143.2 198.0,143.3 199.0,143.3 200.0,143.3 201.0,143.3 202.0,143.3 203.0,143.3 204.0,143.3 205.0,143.3 206.0,143.3 207.0,143.3 208.0,143.3 209.0,143.3 210.0,143.3 211.0,143.3 212.0,143.3 213.0,143.3 214.0,143.3 215.0,143.3 216.0,143.3 217.0,143.3 218.0,143.3 219.0,143.3 220.0,143.3 221.0,143.3 222.0,143.3 223.0,143.3 224.0,143.4 225.0,143.4 226.0,143.4 227.0,143.4 228.0,143.4 229.0,143.4 230.0,143.4 231.0,143.4 232.0,143.4 233.0,143.4 234.0,143.4 235.0,143.4 236.0,143.4 237.0,143.4 238.0,143.4 239.0,143.4 240.0,143.4 241.0,143.4 242.0,143.4 243.0,143.4 244.0,143.4 245.0,143.4 246.0,143.4 247.0,143.4 248.0,143.4 249.0,143.4 250.0,143.4 251.0,143.4 252.0,143.4 253.0,143.4 254.0,143.4 255.0,143.4 256.0,143.4 257.0,143.4 258.0,143.4 259.0,143.4 260.0,143.4 261.0,143.4 262.0,143.4 263.0,143.4 264.0,143.4 265.0,143.4 266.0,143.4 267.0,143.4 268.0,143.4 269.0,143.4 270.0,143.4 271.0,143.4 272.0,143.4 273.0,143.4 274.0,143.4 275.0,143.4 276.0,143.4 277.0,143.4 278.0,143.4 279.0,143.4 279.8,143.4" fill="none" stroke="#b09090" stroke-width="1"/>
<path d="M71.4,130.1 71.7,130.2 71.9,130.4 72.2,130.6 72.4,130.7 72.7,130.9 72.9,131.0 73.2,131.2 73.4,131.3 73.7,131.5 73.9,131.6 74.2,131.8 74.4,132.0 74.7,132.1 74.9,132.3 75.2,132.4 75.4,132.6 75.7,132.8 75.9,132.9 76.2,133.1 76.4,133.2 76.7,133.4 76.9,133.6 77.2,133.7 77.4,133.9 77.7,134.0 77.9,134.2 78.2,134.4 78.4,134.5 78.7,134.7 78.9,134.8 79.2,135.0 79.4,135.1 79.7,135.3 79.9,135.4 80.2,135.6 80.4,135.7 80.7,135.9 80.9,136.0 81.2,136.2 81.4,136.3 81.7,136.5 81.9,136.6 82.2,136.7 82.4,136.9 82.7,137.0 82.9,137.1 83.2,137.3 83.4,137.4 83.7,137.5 83.9,137.6 84.2,137.8 84.4,137.9 84.7,138.0 84.9,138.1 85.2,138.2 85.4,138.3 85.7,138.4 85.9,138.5 86.2,138.6 86.4,138.7 86.7,138.8 86.9,138.9 87.2,139.0 87.4,139.0 87.7,139.1 87.9,139.2 88.2,139.2 88.4,139.3 88.7,139.4 88.9,139.4 89.2,139.5 89.4,139.5 89.7,139.6 89.9,139.6 90.2,139.7 90.4,139.8 90.7,139.8 90.9,139.9 91.2,139.9 91.4,140.0 91.7,140.0 91.9,140.0 92.2,140.1 92.4,140.1 92.7,140.2 92.9,140.2 93.2,140.3 93.4,140.3 93.7,140.3 93.9,140.4 94.2,140.4 94.4,140.4 94.7,140.5 94.9,140.5 95.2,140.5 95.4,140.6 95.7,140.6 95.9,140.6 96.2,140.7 96.4,140.7 96.7,140.7 96.9,140.8 97.2,140.8 97.4,140.8 97.7,140.8 97.9,140.9 98.2,140.9 98.4,140.9 98.7,140.9 98.9,141.0 99.2,141.0 99.4,141.0 99.7,141.0 99.9,141.1 100.0,141.1 101.0,141.2 102.0,141.2 103.0,141.3 104.0,141.4 105.0,141.5 106.0,141.5 107.0,141.6 108.0,141.6 109.0,141.7 110.0,141.7 111.0,141.8 112.0,141.9 113.0,141.9 114.0,141.9 115.0,142.0 116.0,142.0 117.0,142.1 118.0,142.1 119.0,142.2 120.0,142.2 121.0,142.2 122.0,142.3 123.0,142.3 124.0,142.3 125.0,142.4 126.0,142.4 127.0,142.4 128.0,142.5 129.0,142.5 130.0,142.5 131.0,142.5 132.0,142.6 133.0,142.6 134.0,142.6 135.0,142.6 136.0,142.7 137.0,142.7 138.0,142.7 139.0,142.7 140.0,142.8 141.0,142.8 142.0,142.8 143.0,142.8 144.0,142.8 145.0,142.9 146.0,142.9 147.0,142.9 148.0,142.9 149.0,142.9 150.0,142.9 151.0,143.0 152.0,143.0 153.0,143.0 154.0,143.0 155.0,143.0 156.0,143.0 157.0,143.0 158.0,143.1 159.0,143.1 160.0,143.1 161.0,143.1 162.0,143.1 163.0,143.1 164.0,143.1 165.0,143.1 166.0,143.2 167.0,143.2 168.0,143.2 169.0,143.2 170.0,143.2 171.0,143.2 172.0,143.2 173.0,143.2 174.0,143.2 175.0,143.2 176.0,143.2 177.0,143.3 178.0,143.3 179.0,143.3 180.0,143.3 181.0,143.3 182.0,143.3 183.0,143.3 184.0,143.3 185.0,143.3 186.0,143.3 187.0,143.3 188.0,143.3 189.0,143.3 190.0,143.3 191.0,143.3 192.0,143.3 193.0,143.4 194.0,143.4 195.0,143.4 196.0,143.4 197.0,143.4 198.0,143.4 199.0,143.4 200.0,143.4 201.0,143.4 202.0,143.4 203.0,143.4 204.0,143.4 205.0,143.4 206.0,143.4 207.0,143.4 208.0,143.4 209.0,143.4 210.0,143.4 211.0,143.4 212.0,143.4 213.0,143.4 214.0,143.4 215.0,143.4 216.0,143.4 217.0,143.4 218.0,143.4 219.0,143.4 220.0,143.5 221.0,143.5 222.0,143.5 223.0,143.5 224.0,143.5 225.0,143.5 226.0,143.5 227.0,143.5 228.0,143.5 229.0,143.5 230.0,143.5 231.0,143.5 232.0,143.5 233.0,143.5 234.0,143.5 235.0,143.5 236.0,143.5 237.0,143.5 238.0,143.5 239.0,143.5 240.0,143.5 241.0,143.5 242.0,143.5 243.0,143.5 244.0,143.5 245.0,143.5 246.0,143.5 247.0,143.5 248.0,143.5 249.0,143.5 250.0,143.5 251.0,143.5 252.0,143.5 253.0,143.5 254.0,143.5 255.0,143.5 256.0,143.5 257.0,143.5 258.0,143.5 259.0,143.5 260.0,143.5 261.0,143.5 262.0,143.5 263.0,143.5 264.0,143.5 265.0,143.5 266.0,143.5 267.0,143.5 268.0,143.5 269.0,143.5 270.0,143.5 271.0,143.5 272.0,143.5 273.0,143.5 274.0,143.5 275.0,143.5 276.0,143.5 277.0,143.5 278.0,143.5 279.0,143.5 279.8,143.5" fill="none" stroke="#a8b050" stroke-width="1"/>
<path d="M71.4,132.3 71.7,132.4 71.9,132.5 72.2,132.7 72.4,132.8 72.7,132.9 72.9,133.1 73.2,133.2 73.4,133.3 73.7,133.4 73.9,133.6 74.2,133.7 74.4,133.8 74.7,134.0 74.9,134.1 75.2,134.2 75.4,134.4 75.7,134.5 75.9,134.6 76.2,134.8 76.4,134.9 76.7,135.0 76.9,135.2 77.2,135.3 77.4,135.4 77.7,135.6 77.9,135.7 78.2,135.8 78.4,136.0 78.7,136.1 78.9,136.2 79.2,136.3 79.4,136.5 79.7,136.6 79.9,136.7 80.2,136.9 80.4,137.0 80.7,137.1 80.9,137.2 81.2,137.3 81.4,137.5 81.7,137.6 81.9,137.7 82.2,137.8 82.4,137.9 82.7,138.0 82.9,138.1 83.2,138.2 83.4,138.3 83.7,138.4 83.9,138.5 84.2,138.6 84.4,138.7 84.7,138.8 84.9,138.9 85.2,139.0 85.4,139.1 85.7,139.2 85.9,139.3 86.2,139.4 86.4,139.4 86.7,139.5 86.9,139.6 87.2,139.6 87.4,139.7 87.7,139.8 87.9,139.8 88.2,139.9 88.4,139.9 88.7,140.0 88.9,140.0 89.2,140.1 89.4,140.1 89.7,140.2 89.9,140.2 90.2,140.3 90.4,140.3 90.7,140.3 90.9,140.4 91.2,140.4 91.4,140.5 91.7,140.5 91.9,140.5 92.2,140.6 92.4,140.6 92.7,140.6 92.9,140.7 93.2,140.7 93.4,140.7 93.7,140.8 93.9,140.8 94.2,140.8 94.4,140.9 94.7,140.9 94.9,140.9 95.2,140.9 95.4,141.0 95.7,141.0 95.9,141.0 96.2,141.1 96.4,141.1 96.7,141.1 96.9,141.1 97.2,141.1 97.4,141.2 97.7,141.2 97.9,141.2 98.2,141.2 98.4,141.3 98.7,141.3 98.9,141.3 99.2,141.3 99.4,141.3 99.7,141.4 99.9,141.4 100.0,141.4 101.0,141.5 102.0,141.5 103.0,141.6 104.0,141.6 105.0,141.7 106.0,141.8 107.0,141.8 108.0,141.9 109.0,141.9 110.0,141.9 111.0,142.0 112.0,142.0 113.0,142.1 114.0,142.1 115.0,142.1 116.0,142.2 117.0,142.2 118.0,142.3 119.0,142.3 120.0,142.3 121.0,142.3 122.0,142.4 123.0,142.4 124.0,142.4 125.0,142.5 126.0,142.5 127.0,142.5 128.0,142.5 129.0,142.6 130.0,142.6 131.0,142.6 132.0,142.6 133.0,142.6 134.0,142.7 135.0,142.7 136.0,142.7 137.0,142.7 138.0,142.7 139.0,142.8 140.0,142.8 141.0,142.8 142.0,142.8 143.0,142.8 144.0,142.8 145.0,142.9 146.0,142.9 147.0,142.9 148.0,142.9 149.0,142.9 150.0,142.9 151.0,142.9 152.0,143.0 153.0,143.0 154.0,143.0 155.0,143.0 156.0,143.0 157.0,143.0 158.0,143.0 159.0,143.0 160.0,143.1 161.0,143.1 162.0,143.1 163.0,143.1 164.0,143.1 165.0,143.1 166.0,143.1 167.0,143.1 168.0,143.1 169.0,143.1 170.0,143.1 171.0,143.2 172.0,143.2 173.0,143.2 174.0,143.2 175.0,143.2 176.0,143.2 177.0,143.2 178.0,143.2 179.0,143.2 180.0,143.2 181.0,143.2 182.0,143.2 183.0,143.2 184.0,143.2 185.0,143.2 186.0,143.2 187.0,143.3 188.0,143.3 189.0,143.3 190.0,143.3 191.0,143.3 192.0,143.3 193.0,143.3 194.0,143.3 195.0,143.3 196.0,143.3 197.0,143.3 198.0,143.3 199.0,143.3 200.0,143.3 201.0,143.3 202.0,143.3 203.0,143.3 204.0,143.3 205.0,143.3 206.0,143.3 207.0,143.3 208.0,143.3 209.0,143.3 210.0,143.3 211.0,143.3 212.0,143.3 213.0,143.3 214.0,143.3 215.0,143.3 216.0,143.4 217.0,143.4 218.0,143.4 219.0,143.4 220.0,143.4 221.0,143.4 222.0,143.4 223.0,143.4 224.0,143.4 225.0,143.4 226.0,143.4 227.0,143.4 228.0,143.4 229.0,143.4 230.0,143.4 231.0,143.4 232.0,143.4 233.0,143.4 234.0,143.4 235.0,143.4 236.0,143.4 237.0,143.4 238.0,143.4 239.0,143.4 240.0,143.4 241.0,143.4 242.0,143.4 243.0,143.4 244.0,143.4 245.0,143.4 246.0,143.4 247.0,143.4 248.0,143.4 249.0,143.4 250.0,143.4 251.0,143.4 252.0,143.4 253.0,143.4 254.0,143.4 255.0,143.4 256.0,143.4 257.0,143.4 258.0,143.4 259.0,143.4 260.0,143.4 261.0,143.4 262.0,143.4 263.0,143.4 264.0,143.4 265.0,143.4 266.0,143.4 267.0,143.4 268.0,143.4 269.0,143.4 270.0,143.4 271.0,143.4 272.0,143.4 273.0,143.4 274.0,143.4 275.0,143.4 276.0,143.4 277.0,143.4 278.0,143.4 279.0,143.4 279.8,143.4" fill="none" stroke="#ff8840" stroke-width="1"/>
<path d="M71.4,141.7 71.7,141.7 71.9,141.7 72.2,141.8 72.4,141.8 72.7,141.8 72.9,141.8 73.2,141.9 73.4,141.9 73.7,141.9 73.9,142.0 74.2,142.0 74.4,142.0 74.7,142.0 74.9,142.1 75.2,142.1 75.4,142.1 75.7,142.1 75.9,142.2 76.2,142.2 76.4,142.2 76.7,142.2 76.9,142.3 77.2,142.3 77.4,142.3 77.7,142.3 77.9,142.4 78.2,142.4 78.4,142.4 78.7,142.5 78.9,142.5 79.2,142.5 79.4,142.5 79.7,142.6 79.9,142.6 80.2,142.6 80.4,142.6 80.7,142.7 80.9,142.7 81.2,142.7 81.4,142.7 81.7,142.7 81.9,142.8 82.2,142.8 82.4,142.8 82.7,142.8 82.9,142.9 83.2,142.9 83.4,142.9 83.7,142.9 83.9,142.9 84.2,143.0 84.4,143.0 84.7,143.0 84.9,143.0 85.2,143.0 85.4,143.1 85.7,143.1 85.9,143.1 86.2,143.1 86.4,143.1 86.7,143.1 86.9,143.1 87.2,143.2 87.4,143.2 87.7,143.2 87.9,143.2 88.2,143.2 88.4,143.2 88.7,143.2 88.9,143.2 89.2,143.2 89.4,143.3 89.7,143.3 89.9,143.3 90.2,143.3 90.4,143.3 90.7,143.3 90.9,143.3 91.2,143.3 91.4,143.3 91.7,143.3 91.9,143.3 92.2,143.3 92.4,143.3 92.7,143.4 92.9,143.4 93.2,143.4 93.4,143.4 93.7,143.4 93.9,143.4 94.2,143.4 94.4,143.4 94.7,143.4 94.9,143.4 95.2,143.4 95.4,143.4 95.7,143.4 95.9,143.4 96.2,143.4 96.4,143.4 96.7,143.4 96.9,143.4 97.2,143.5 97.4,143.5 97.7,143.5 97.9,143.5 98.2,143.5 98.4,143.5 98.7,143.5 98.9,143.5 99.2,143.5 99.4,143.5 99.7,143.5 99.9,143.5 100.0,143.5 101.0,143.5 102.0,143.5 103.0,143.5 104.0,143.6 105.0,143.6 106.0,143.6 107.0,143.6 108.0,143.6 109.0,143.6 110.0,143.6 111.0,143.6 112.0,143.6 113.0,143.6 114.0,143.6 115.0,143.7 116.0,143.7 117.0,143.7 118.0,143.7 119.0,143.7 120.0,143.7 121.0,143.7 122.0,143.7 123.0,143.7 124.0,143.7 125.0,143.7 126.0,143.7 127.0,143.7 128.0,143.7 129.0,143.7 130.0,143.7 131.0,143.7 132.0,143.7 133.0,143.8 134.0,143.8 135.0,143.8 136.0,143.8 137.0,143.8 138.0,143.8 139.0,143.8 140.0,143.8 141.0,143.8 142.0,143.8 143.0,143.8 144.0,143.8 145.0,143.8 146.0,143.8 147.0,143.8 148.0,143.8 149.0,143.8 150.0,143.8 151.0,143.8 152.0,143.8 153.0,143.8 154.0,143.8 155.0,143.8 156.0,143.8 157.0,143.8 158.0,143.8 159.0,143.8 160.0,143.8 161.0,143.8 162.0,143.8 163.0,143.8 164.0,143.8 165.0,143.8 166.0,143.8 167.0,143.8 168.0,143.8 169.0,143.8 170.0,143.8 171.0,143.9 172.0,143.9 173.0,143.9 174.0,143.9 175.0,143.9 176.0,143.9 177.0,143.9 178.0,143.9 179.0,143.9 180.0,143.9 181.0,143.9 182.0,143.9 183.0,143.9 184.0,143.9 185.0,143.9 186.0,143.9 187.0,143.9 188.0,143.9 189.0,143.9 190.0,143.9 191.0,143.9 192.0,143.9 193.0,143.9 194.0,143.9 195.0,143.9 196.0,143.9 197.0,143.9 198.0,143.9 199.0,143.9 200.0,143.9 201.0,143.9 202.0,143.9 203.0,143.9 204.0,143.9 205.0,143.9 206.0,143.9 207.0,143.9 208.0,143.9 209.0,143.9 210.0,143.9 211.0,143.9 212.0,143.9 213.0,143.9 214.0,143.9 215.0,143.9 216.0,143.9 217.0,143.9 218.0,143.9 219.0,143.9 220.0,143.9 221.0,143.9 222.0,143.9 223.0,143.9 224.0,143.9 225.0,143.9 226.0,143.9 227.0,143.9 228.0,143.9 229.0,143.9 230.0,143.9 231.0,143.9 232.0,143.9 233.0,143.9 234.0,143.9 235.0,143.9 236.0,143.9 237.0,143.9 238.0,143.9 239.0,143.9 240.0,143.9 241.0,143.9 242.0,143.9 243.0,143.9 244.0,143.9 245.0,143.9 246.0,143.9 247.0,143.9 248.0,143.9 249.0,143.9 250.0,143.9 251.0,143.9 252.0,143.9 253.0,143.9 254.0,143.9 255.0,143.9 256.0,143.9 257.0,143.9 258.0,143.9 259.0,143.9 260.0,143.9 261.0,143.9 262.0,143.9 263.0,143.9 264.0,143.9 265.0,143.9 266.0,143.9 267.0,143.9 268.0,143.9 269.0,143.9 270.0,143.9 271.0,143.9 272.0,143.9 273.0,143.9 274.0,143.9 275.0,143.9 276.0,143.9 277.0,143.9 278.0,143.9 279.0,143.9 279.8,143.9" fill="none" stroke="#7fb0e0" stroke-width="1"/>
<path d="M71.4,137.9 71.7,138.0 71.9,138.0 72.2,138.1 72.4,138.2 72.7,138.2 72.9,138.3 73.2,138.4 73.4,138.4 73.7,138.5 73.9,138.6 74.2,138.6 74.4,138.7 74.7,138.8 74.9,138.8 75.2,138.9 75.4,139.0 75.7,139.0 75.9,139.1 76.2,139.2 76.4,139.2 76.7,139.3 76.9,139.4 77.2,139.4 77.4,139.5 77.7,139.6 77.9,139.6 78.2,139.7 78.4,139.8 78.7,139.8 78.9,139.9 79.2,140.0 79.4,140.0 79.7,140.1 79.9,140.2 80.2,140.2 80.4,140.3 80.7,140.4 80.9,140.4 81.2,140.5 81.4,140.5 81.7,140.6 81.9,140.7 82.2,140.7 82.4,140.8 82.7,140.8 82.9,140.9 83.2,140.9 83.4,141.0 83.7,141.1 83.9,141.1 84.2,141.2 84.4,141.2 84.7,141.3 84.9,141.3 85.2,141.4 85.4,141.4 85.7,141.4 85.9,141.5 86.2,141.5 86.4,141.6 86.7,141.6 86.9,141.6 87.2,141.7 87.4,141.7 87.7,141.7 87.9,141.8 88.2,141.8 88.4,141.8 88.7,141.8 88.9,141.9 89.2,141.9 89.4,141.9 89.7,141.9 89.9,142.0 90.2,142.0 90.4,142.0 90.7,142.0 90.9,142.0 91.2,142.1 91.4,142.1 91.7,142.1 91.9,142.1 92.2,142.1 92.4,142.2 92.7,142.2 92.9,142.2 93.2,142.2 93.4,142.2 93.7,142.3 93.9,142.3 94.2,142.3 94.4,142.3 94.7,142.3 94.9,142.3 95.2,142.3 95.4,142.4 95.7,142.4 95.9,142.4 96.2,142.4 96.4,142.4 96.7,142.4 96.9,142.4 97.2,142.4 97.4,142.5 97.7,142.5 97.9,142.5 98.2,142.5 98.4,142.5 98.7,142.5 98.9,142.5 99.2,142.5 99.4,142.5 99.7,142.6 99.9,142.6 100.0,142.6 101.0,142.6 102.0,142.6 103.0,142.7 104.0,142.7 105.0,142.7 106.0,142.8 107.0,142.8 108.0,142.8 109.0,142.8 110.0,142.9 111.0,142.9 112.0,142.9 113.0,142.9 114.0,142.9 115.0,143.0 116.0,143.0 117.0,143.0 118.0,143.0 119.0,143.0 120.0,143.0 121.0,143.1 122.0,143.1 123.0,143.1 124.0,143.1 125.0,143.1 126.0,143.1 127.0,143.1 128.0,143.2 129.0,143.2 130.0,143.2 131.0,143.2 132.0,143.2 133.0,143.2 134.0,143.2 135.0,143.2 136.0,143.2 137.0,143.3 138.0,143.3 139.0,143.3 140.0,143.3 141.0,143.3 142.0,143.3 143.0,143.3 144.0,143.3 145.0,143.3 146.0,143.3 147.0,143.3 148.0,143.3 149.0,143.4 150.0,143.4 151.0,143.4 152.0,143.4 153.0,143.4 154.0,143.4 155.0,143.4 156.0,143.4 157.0,143.4 158.0,143.4 159.0,143.4 160.0,143.4 161.0,143.4 162.0,143.4 163.0,143.4 164.0,143.4 165.0,143.4 166.0,143.5 167.0,143.5 168.0,143.5 169.0,143.5 170.0,143.5 171.0,143.5 172.0,143.5 173.0,143.5 174.0,143.5 175.0,143.5 176.0,143.5 177.0,143.5 178.0,143.5 179.0,143.5 180.0,143.5 181.0,143.5 182.0,143.5 183.0,143.5 184.0,143.5 185.0,143.5 186.0,143.5 187.0,143.5 188.0,143.5 189.0,143.5 190.0,143.5 191.0,143.5 192.0,143.5 193.0,143.5 194.0,143.5 195.0,143.5 196.0,143.5 197.0,143.5 198.0,143.5 199.0,143.5 200.0,143.6 201.0,143.6 202.0,143.6 203.0,143.6 204.0,143.6 205.0,143.6 206.0,143.6 207.0,143.6 208.0,143.6 209.0,143.6 210.0,143.6 211.0,143.6 212.0,143.6 213.0,143.6 214.0,143.6 215.0,143.6 216.0,143.6 217.0,143.6 218.0,143.6 219.0,143.6 220.0,143.6 221.0,143.6 222.0,143.6 223.0,143.6 224.0,143.6 225.0,143.6 226.0,143.6 227.0,143.6 228.0,143.6 229.0,143.6 230.0,143.6 231.0,143.6 232.0,143.6 233.0,143.6 234.0,143.6 235.0,143.6 236.0,143.6 237.0,143.6 238.0,143.6 239.0,143.6 240.0,143.6 241.0,143.6 242.0,143.6 243.0,143.6 244.0,143.6 245.0,143.6 246.0,143.6 247.0,143.6 248.0,143.6 249.0,143.6 250.0,143.6 251.0,143.6 252.0,143.6 253.0,143.6 254.0,143.6 255.0,143.6 256.0,143.6 257.0,143.6 258.0,143.6 259.0,143.6 260.0,143.6 261.0,143.6 262.0,143.6 263.0,143.6 264.0,143.6 265.0,143.6 266.0,143.6 267.0,143.6 268.0,143.6 269.0,143.6 270.0,143.6 271.0,143.6 272.0,143.6 273.0,143.6 274.0,143.6 275.0,143.6 276.0,143.6 277.0,143.6 278.0,143.6 279.0,143.6 279.8,143.6" fill="none" stroke="#8ed050" stroke-width="1"/>
<path d="M71.4,128.0 71.7,128.2 71.9,128.3 72.2,128.5 72.4,128.7 72.7,128.9 72.9,129.0 73.2,129.2 73.4,129.4 73.7,129.6 73.9,129.8 74.2,129.9 74.4,130.1 74.7,130.3 74.9,130.5 75.2,130.7 75.4,130.9 75.7,131.0 75.9,131.2 76.2,131.4 76.4,131.6 76.7,131.8 76.9,132.0 77.2,132.1 77.4,132.3 77.7,132.5 77.9,132.7 78.2,132.9 78.4,133.0 78.7,133.2 78.9,133.4 79.2,133.6 79.4,133.8 79.7,133.9 79.9,134.1 80.2,134.3 80.4,134.4 80.7,134.6 80.9,134.8 81.2,134.9 81.4,135.1 81.7,135.3 81.9,135.4 82.2,135.6 82.4,135.7 82.7,135.9 82.9,136.0 83.2,136.2 83.4,136.3 83.7,136.5 83.9,136.6 84.2,136.7 84.4,136.9 84.7,137.0 84.9,137.1 85.2,137.3 85.4,137.4 85.7,137.5 85.9,137.6 86.2,137.7 86.4,137.8 86.7,137.9 86.9,138.0 87.2,138.1 87.4,138.2 87.7,138.3 87.9,138.4 88.2,138.4 88.4,138.5 88.7,138.6 88.9,138.7 89.2,138.7 89.4,138.8 89.7,138.8 89.9,138.9 90.2,139.0 90.4,139.0 90.7,139.1 90.9,139.1 91.2,139.2 91.4,139.2 91.7,139.3 91.9,139.4 92.2,139.4 92.4,139.5 92.7,139.5 92.9,139.5 93.2,139.6 93.4,139.6 93.7,139.7 93.9,139.7 94.2,139.8 94.4,139.8 94.7,139.8 94.9,139.9 95.2,139.9 95.4,140.0 95.7,140.0 95.9,140.0 96.2,140.1 96.4,140.1 96.7,140.1 96.9,140.2 97.2,140.2 97.4,140.2 97.7,140.3 97.9,140.3 98.2,140.3 98.4,140.3 98.7,140.4 98.9,140.4 99.2,140.4 99.4,140.5 99.7,140.5 99.9,140.5 100.0,140.5 101.0,140.6 102.0,140.7 103.0,140.8 104.0,140.9 105.0,141.0 106.0,141.0 107.0,141.1 108.0,141.2 109.0,141.2 110.0,141.3 111.0,141.4 112.0,141.4 113.0,141.5 114.0,141.5 115.0,141.6 116.0,141.6 117.0,141.7 118.0,141.7 119.0,141.8 120.0,141.8 121.0,141.8 122.0,141.9 123.0,141.9 124.0,142.0 125.0,142.0 126.0,142.0 127.0,142.1 128.0,142.1 129.0,142.1 130.0,142.2 131.0,142.2 132.0,142.2 133.0,142.3 134.0,142.3 135.0,142.3 136.0,142.3 137.0,142.4 138.0,142.4 139.0,142.4 140.0,142.4 141.0,142.5 142.0,142.5 143.0,142.5 144.0,142.5 145.0,142.6 146.0,142.6 147.0,142.6 148.0,142.6 149.0,142.6 150.0,142.7 151.0,142.7 152.0,142.7 153.0,142.7 154.0,142.7 155.0,142.7 156.0,142.8 157.0,142.8 158.0,142.8 159.0,142.8 160.0,142.8 161.0,142.8 162.0,142.8 163.0,142.9 164.0,142.9 165.0,142.9 166.0,142.9 167.0,142.9 168.0,142.9 169.0,142.9 170.0,142.9 171.0,143.0 172.0,143.0 173.0,143.0 174.0,143.0 175.0,143.0 176.0,143.0 177.0,143.0 178.0,143.0 179.0,143.0 180.0,143.0 181.0,143.0 182.0,143.1 183.0,143.1 184.0,143.1 185.0,143.1 186.0,143.1 187.0,143.1 188.0,143.1 189.0,143.1 190.0,143.1 191.0,143.1 192.0,143.1 193.0,143.1 194.0,143.1 195.0,143.1 196.0,143.1 197.0,143.2 198.0,143.2 199.0,143.2 200.0,143.2 201.0,143.2 202.0,143.2 203.0,143.2 204.0,143.2 205.0,143.2 206.0,143.2 207.0,143.2 208.0,143.2 209.0,143.2 210.0,143.2 211.0,143.2 212.0,143.2 213.0,143.2 214.0,143.2 215.0,143.2 216.0,143.2 217.0,143.2 218.0,143.2 219.0,143.2 220.0,143.2 221.0,143.2 222.0,143.2 223.0,143.3 224.0,143.3 225.0,143.3 226.0,143.3 227.0,143.3 228.0,143.3 229.0,143.3 230.0,143.3 231.0,143.3 232.0,143.3 233.0,143.3 234.0,143.3 235.0,143.3 236.0,143.3 237.0,143.3 238.0,143.3 239.0,143.3 240.0,143.3 241.0,143.3 242.0,143.3 243.0,143.3 244.0,143.3 245.0,143.3 246.0,143.3 247.0,143.3 248.0,143.3 249.0,143.3 250.0,143.3 251.0,143.3 252.0,143.3 253.0,143.3 254.0,143.3 255.0,143.3 256.0,143.3 257.0,143.3 258.0,143.3 259.0,143.3 260.0,143.3 261.0,143.3 262.0,143.3 263.0,143.3 264.0,143.3 265.0,143.3 266.0,143.3 267.0,143.3 268.0,143.3 269.0,143.3 270.0,143.3 271.0,143.3 272.0,143.3 273.0,143.3 274.0,143.3 275.0,143.3 276.0,143.3 277.0,143.3 278.0,143.3 279.0,143.3 279.8,143.3" fill="none" stroke="#6a6a6a" stroke-width="1"/>
<path d="M71.4,121.8 71.7,122.0 71.9,122.3 72.2,122.5 72.4,122.8 72.7,123.0 72.9,123.3 73.2,123.5 73.4,123.8 73.7,124.0 73.9,124.3 74.2,124.5 74.4,124.8 74.7,125.1 74.9,125.3 75.2,125.6 75.4,125.8 75.7,126.1 75.9,126.3 76.2,126.6 76.4,126.9 76.7,127.1 76.9,127.4 77.2,127.6 77.4,127.9 77.7,128.2 77.9,128.4 78.2,128.7 78.4,128.9 78.7,129.2 78.9,129.4 79.2,129.7 79.4,129.9 79.7,130.2 79.9,130.4 80.2,130.7 80.4,130.9 80.7,131.1 80.9,131.4 81.2,131.6 81.4,131.8 81.7,132.1 81.9,132.3 82.2,132.5 82.4,132.7 82.7,132.9 82.9,133.1 83.2,133.4 83.4,133.6 83.7,133.8 83.9,134.0 84.2,134.2 84.4,134.3 84.7,134.5 84.9,134.7 85.2,134.9 85.4,135.1 85.7,135.2 85.9,135.4 86.2,135.5 86.4,135.7 86.7,135.8 86.9,135.9 87.2,136.1 87.4,136.2 87.7,136.3 87.9,136.4 88.2,136.5 88.4,136.6 88.7,136.7 88.9,136.8 89.2,136.9 89.4,137.0 89.7,137.1 89.9,137.2 90.2,137.3 90.4,137.4 90.7,137.4 90.9,137.5 91.2,137.6 91.4,137.7 91.7,137.8 91.9,137.8 92.2,137.9 92.4,138.0 92.7,138.0 92.9,138.1 93.2,138.2 93.4,138.2 93.7,138.3 93.9,138.3 94.2,138.4 94.4,138.5 94.7,138.5 94.9,138.6 95.2,138.6 95.4,138.7 95.7,138.7 95.9,138.8 96.2,138.8 96.4,138.9 96.7,138.9 96.9,139.0 97.2,139.0 97.4,139.1 97.7,139.1 97.9,139.1 98.2,139.2 98.4,139.2 98.7,139.3 98.9,139.3 99.2,139.3 99.4,139.4 99.7,139.4 99.9,139.5 100.0,139.5 101.0,139.6 102.0,139.7 103.0,139.9 104.0,140.0 105.0,140.1 106.0,140.2 107.0,140.3 108.0,140.4 109.0,140.5 110.0,140.6 111.0,140.7 112.0,140.7 113.0,140.8 114.0,140.9 115.0,141.0 116.0,141.0 117.0,141.1 118.0,141.2 119.0,141.2 120.0,141.3 121.0,141.3 122.0,141.4 123.0,141.5 124.0,141.5 125.0,141.6 126.0,141.6 127.0,141.7 128.0,141.7 129.0,141.8 130.0,141.8 131.0,141.9 132.0,141.9 133.0,141.9 134.0,142.0 135.0,142.0 136.0,142.1 137.0,142.1 138.0,142.1 139.0,142.2 140.0,142.2 141.0,142.2 142.0,142.3 143.0,142.3 144.0,142.3 145.0,142.4 146.0,142.4 147.0,142.4 148.0,142.4 149.0,142.5 150.0,142.5 151.0,142.5 152.0,142.5 153.0,142.6 154.0,142.6 155.0,142.6 156.0,142.6 157.0,142.7 158.0,142.7 159.0,142.7 160.0,142.7 161.0,142.7 162.0,142.8 163.0,142.8 164.0,142.8 165.0,142.8 166.0,142.8 167.0,142.9 168.0,142.9 169.0,142.9 170.0,142.9 171.0,142.9 172.0,142.9 173.0,142.9 174.0,143.0 175.0,143.0 176.0,143.0 177.0,143.0 178.0,143.0 179.0,143.0 180.0,143.0 181.0,143.0 182.0,143.1 183.0,143.1 184.0,143.1 185.0,143.1 186.0,143.1 187.0,143.1 188.0,143.1 189.0,143.1 190.0,143.1 191.0,143.1 192.0,143.2 193.0,143.2 194.0,143.2 195.0,143.2 196.0,143.2 197.0,143.2 198.0,143.2 199.0,143.2 200.0,143.2 201.0,143.2 202.0,143.2 203.0,143.2 204.0,143.2 205.0,143.2 206.0,143.3 207.0,143.3 208.0,143.3 209.0,143.3 210.0,143.3 211.0,143.3 212.0,143.3 213.0,143.3 214.0,143.3 215.0,143.3 216.0,143.3 217.0,143.3 218.0,143.3 219.0,143.3 220.0,143.3 221.0,143.3 222.0,143.3 223.0,143.3 224.0,143.3 225.0,143.3 226.0,143.3 227.0,143.3 228.0,143.3 229.0,143.4 230.0,143.4 231.0,143.4 232.0,143.4 233.0,143.4 234.0,143.4 235.0,143.4 236.0,143.4 237.0,143.4 238.0,143.4 239.0,143.4 240.0,143.4 241.0,143.4 242.0,143.4 243.0,143.4 244.0,143.4 245.0,143.4 246.0,143.4 247.0,143.4 248.0,143.4 249.0,143.4 250.0,143.4 251.0,143.4 252.0,143.4 253.0,143.4 254.0,143.4 255.0,143.4 256.0,143.4 257.0,143.4 258.0,143.4 259.0,143.4 260.0,143.4 261.0,143.4 262.0,143.4 263.0,143.4 264.0,143.4 265.0,143.4 266.0,143.4 267.0,143.4 268.0,143.4 269.0,143.4 270.0,143.4 271.0,143.4 272.0,143.4 273.0,143.4 274.0,143.4 275.0,143.4 276.0,143.4 277.0,143.4 278.0,143.4 279.0,143.4 279.8,143.4" fill="none" stroke="#f05a5a" stroke-width="1"/>
<path d="M71.4,143.5 71.7,143.5 71.9,143.5 72.2,143.5 72.4,143.5 72.7,143.6 72.9,143.6 73.2,143.6 73.4,143.6 73.7,143.6 73.9,143.6 74.2,143.6 74.4,143.6 74.7,143.6 74.9,143.6 75.2,143.7 75.4,143.7 75.7,143.7 75.9,143.7 76.2,143.7 76.4,143.7 76.7,143.7 76.9,143.7 77.2,143.7 77.4,143.8 77.7,143.8 77.9,143.8 78.2,143.8 78.4,143.8 78.7,143.8 78.9,143.8 79.2,143.8 79.4,143.8 79.7,143.8 79.9,143.9 80.2,143.9 80.4,143.9 80.7,143.9 80.9,143.9 81.2,143.9 81.4,143.9 81.7,143.9 81.9,143.9 82.2,143.9 82.4,144.0 82.7,144.0 82.9,144.0 83.2,144.0 83.4,144.0 83.7,144.0 83.9,144.0 84.2,144.0 84.4,144.0 84.7,144.0 84.9,144.0 85.2,144.0 85.4,144.1 85.7,144.1 85.9,144.1 86.2,144.1 86.4,144.1 86.7,144.1 86.9,144.1 87.2,144.1 87.4,144.1 87.7,144.1 87.9,144.1 88.2,144.1 88.4,144.1 88.7,144.1 88.9,144.1 89.2,144.1 89.4,144.1 89.7,144.1 89.9,144.1 90.2,144.1 90.4,144.1 90.7,144.2 90.9,144.2 91.2,144.2 91.4,144.2 91.7,144.2 91.9,144.2 92.2,144.2 92.4,144.2 92.7,144.2 92.9,144.2 93.2,144.2 93.4,144.2 93.7,144.2 93.9,144.2 94.2,144.2 94.4,144.2 94.7,144.2 94.9,144.2 95.2,144.2 95.4,144.2 95.7,144.2 95.9,144.2 96.2,144.2 96.4,144.2 96.7,144.2 96.9,144.2 97.2,144.2 97.4,144.2 97.7,144.2 97.9,144.2 98.2,144.2 98.4,144.2 98.7,144.2 98.9,144.2 99.2,144.2 99.4,144.2 99.7,144.2 99.9,144.2 100.0,144.2 101.0,144.2 102.0,144.2 103.0,144.3 104.0,144.3 105.0,144.3 106.0,144.3 107.0,144.3 108.0,144.3 109.0,144.3 110.0,144.3 111.0,144.3 112.0,144.3 113.0,144.3 114.0,144.3 115.0,144.3 116.0,144.3 117.0,144.3 118.0,144.3 119.0,144.3 120.0,144.3 121.0,144.3 122.0,144.3 123.0,144.3 124.0,144.3 125.0,144.3 126.0,144.3 127.0,144.3 128.0,144.3 129.0,144.3 130.0,144.3 131.0,144.3 132.0,144.3 133.0,144.3 134.0,144.3 135.0,144.3 136.0,144.3 137.0,144.3 138.0,144.3 139.0,144.3 140.0,144.3 141.0,144.4 142.0,144.4 143.0,144.4 144.0,144.4 145.0,144.4 146.0,144.4 147.0,144.4 148.0,144.4 149.0,144.4 150.0,144.4 151.0,144.4 152.0,144.4 153.0,144.4 154.0,144.4 155.0,144.4 156.0,144.4 157.0,144.4 158.0,144.4 159.0,144.4 160.0,144.4 161.0,144.4 162.0,144.4 163.0,144.4 164.0,144.4 165.0,144.4 166.0,144.4 167.0,144.4 168.0,144.4 169.0,144.4 170.0,144.4 171.0,144.4 172.0,144.4 173.0,144.4 174.0,144.4 175.0,144.4 176.0,144.4 177.0,144.4 178.0,144.4 179.0,144.4 180.0,144.4 181.0,144.4 182.0,144.4 183.0,144.4 184.0,144.4 185.0,144.4 186.0,144.4 187.0,144.4 188.0,144.4 189.0,144.4 190.0,144.4 191.0,144.4 192.0,144.4 193.0,144.4 194.0,144.4 195.0,144.4 196.0,144.4 197.0,144.4 198.0,144.4 199.0,144.4 200.0,144.4 201.0,144.4 202.0,144.4 203.0,144.4 204.0,144.4 205.0,144.4 206.0,144.4 207.0,144.4 208.0,144.4 209.0,144.4 210.0,144.4 211.0,144.4 212.0,144.4 213.0,144.4 214.0,144.4 215.0,144.4 216.0,144.4 217.0,144.4 218.0,144.4 219.0,144.4 220.0,144.4 221.0,144.4 222.0,144.4 223.0,144.4 224.0,144.4 225.0,144.4 226.0,144.4 227.0,144.4 228.0,144.4 229.0,144.4 230.0,144.4 231.0,144.4 232.0,144.4 233.0,144.4 234.0,144.4 235.0,144.4 236.0,144.4 237.0,144.4 238.0,144.4 239.0,144.4 240.0,144.4 241.0,144.4 242.0,144.4 243.0,144.4 244.0,144.4 245.0,144.4 246.0,144.4 247.0,144.4 248.0,144.4 249.0,144.4 250.0,144.4 251.0,144.4 252.0,144.4 253.0,144.4 254.0,144.4 255.0,144.4 256.0,144.4 257.0,144.4 258.0,144.4 259.0,144.4 260.0,144.4 261.0,144.4 262.0,144.4 263.0,144.4 264.0,144.4 265.0,144.4 266.0,144.4 267.0,144.4 268.0,144.4 269.0,144.4 270.0,144.4 271.0,144.4 272.0,144.4 273.0,144.4 274.0,144.4 275.0,144.4 276.0,144.4 277.0,144.4 278.0,144.4 279.0,144.4 279.8,144.4" fill="none" stroke="#3f7fe0" stroke-width="1"/>
<line x1="300.5" y1="13.5" x2="300.5" y2="195.5" stroke="#dedede" stroke-width="1"/>
<line x1="341.5" y1="13.5" x2="341.5" y2="196" stroke="#bdbdbd" stroke-width="1"/>
<line x1="300" y1="195.5" x2="342" y2="195.5" stroke="#cacaca" stroke-width="1"/>
<line x1="300" y1="13.5" x2="342" y2="13.5" stroke="#a8a8a8" stroke-width="1"/>
<text x="315.7" y="7.9" class="lg">k<tspan dy="3.2" font-size="6.5">B</tspan></text>
<line x1="301.7" y1="19.60" x2="324" y2="19.60" stroke="#505050" stroke-width="1.2"/>
<text x="329.4" y="23.20" class="lg">2</text>
<line x1="301.7" y1="31.67" x2="324" y2="31.67" stroke="#f04a4a" stroke-width="1.2"/>
<text x="329.4" y="35.27" class="lg">4</text>
<line x1="301.7" y1="43.74" x2="324" y2="43.74" stroke="#3f7fe0" stroke-width="1.2"/>
<text x="329.4" y="47.34" class="lg">6</text>
<line x1="301.7" y1="55.81" x2="324" y2="55.81" stroke="#4cbf80" stroke-width="1.2"/>
<text x="329.4" y="59.41" class="lg">8</text>
<line x1="301.7" y1="67.88" x2="324" y2="67.88" stroke="#b07ce8" stroke-width="1.2"/>
<text x="329.4" y="71.48" class="lg">10</text>
<line x1="301.7" y1="79.95" x2="324" y2="79.95" stroke="#e0b040" stroke-width="1.2"/>
<text x="329.4" y="83.55" class="lg">12</text>
<line x1="301.7" y1="92.02" x2="324" y2="92.02" stroke="#40d8d8" stroke-width="1.2"/>
<text x="329.4" y="95.62" class="lg">14</text>
<line x1="301.7" y1="104.09" x2="324" y2="104.09" stroke="#b09090" stroke-width="1.2"/>
<text x="329.4" y="107.69" class="lg">16</text>
<line x1="301.7" y1="116.16" x2="324" y2="116.16" stroke="#a8b050" stroke-width="1.2"/>
<text x="329.4" y="119.76" class="lg">18</text>
<line x1="301.7" y1="128.23" x2="324" y2="128.23" stroke="#ff8840" stroke-width="1.2"/>
<text x="329.4" y="131.83" class="lg">20</text>
<line x1="301.7" y1="140.30" x2="324" y2="140.30" stroke="#7fb0e0" stroke-width="1.2"/>
<text x="329.4" y="143.90" class="lg">22</text>
<line x1="301.7" y1="152.37" x2="324" y2="152.37" stroke="#8ed050" stroke-width="1.2"/>
<text x="329.4" y="155.97" class="lg">24</text>
<line x1="301.7" y1="164.44" x2="324" y2="164.44" stroke="#6a6a6a" stroke-width="1.2"/>
<text x="329.4" y="168.04" class="lg">26</text>
<line x1="301.7" y1="176.51" x2="324" y2="176.51" stroke="#f05a5a" stroke-width="1.2"/>
<text x="329.4" y="180.11" class="lg">28</text>
<line x1="301.7" y1="188.58" x2="324" y2="188.58" stroke="#3f7fe0" stroke-width="1.2"/>
<text x="329.4" y="192.18" class="lg">30</text>
<line x1="406.2" y1="20.2" x2="406.2" y2="213.7" stroke="#2a2a2a" stroke-width="1.1"/>
<line x1="402.2" y1="20.40" x2="406.2" y2="20.40" stroke="#2a2a2a" stroke-width="1.1"/>
<line x1="404.2" y1="37.61" x2="406.2" y2="37.61" stroke="#2a2a2a" stroke-width="1.1"/>
<text x="400.0" y="23.80" text-anchor="end" class="tk">0.<tspan dx="2.4">10</tspan></text>
<line x1="402.2" y1="54.82" x2="406.2" y2="54.82" stroke="#2a2a2a" stroke-width="1.1"/>
<line x1="404.2" y1="72.03" x2="406.2" y2="72.03" stroke="#2a2a2a" stroke-width="1.1"/>
<text x="400.0" y="58.22" text-anchor="end" class="tk">0.<tspan dx="2.4">08</tspan></text>
<line x1="402.2" y1="89.24" x2="406.2" y2="89.24" stroke="#2a2a2a" stroke-width="1.1"/>
<line x1="404.2" y1="106.45" x2="406.2" y2="106.45" stroke="#2a2a2a" stroke-width="1.1"/>
<text x="400.0" y="92.64" text-anchor="end" class="tk">0.<tspan dx="2.4">06</tspan></text>
<line x1="402.2" y1="123.66" x2="406.2" y2="123.66" stroke="#2a2a2a" stroke-width="1.1"/>
<line x1="404.2" y1="140.87" x2="406.2" y2="140.87" stroke="#2a2a2a" stroke-width="1.1"/>
<text x="400.0" y="127.06" text-anchor="end" class="tk">0.<tspan dx="2.4">04</tspan></text>
<line x1="402.2" y1="158.08" x2="406.2" y2="158.08" stroke="#2a2a2a" stroke-width="1.1"/>
<line x1="404.2" y1="175.29" x2="406.2" y2="175.29" stroke="#2a2a2a" stroke-width="1.1"/>
<text x="400.0" y="161.48" text-anchor="end" class="tk">0.<tspan dx="2.4">02</tspan></text>
<line x1="402.2" y1="192.50" x2="406.2" y2="192.50" stroke="#2a2a2a" stroke-width="1.1"/>
<line x1="404.2" y1="209.71" x2="406.2" y2="209.71" stroke="#2a2a2a" stroke-width="1.1"/>
<text x="400.0" y="195.90" text-anchor="end" class="tk">0.<tspan dx="2.4">00</tspan></text>
<line x1="404.3" y1="210.2" x2="642.8" y2="210.2" stroke="#6e6e6e" stroke-width="1.3"/>
<line x1="406.20" y1="210.2" x2="406.20" y2="214" stroke="#2a2a2a" stroke-width="1.1"/>
<line x1="424.36" y1="210.2" x2="424.36" y2="211.8" stroke="#2a2a2a" stroke-width="1.1"/>
<text x="406.20" y="225.4" text-anchor="middle" class="tk">0</text>
<line x1="442.52" y1="210.2" x2="442.52" y2="214" stroke="#2a2a2a" stroke-width="1.1"/>
<line x1="460.67" y1="210.2" x2="460.67" y2="211.8" stroke="#2a2a2a" stroke-width="1.1"/>
<text x="442.52" y="225.4" text-anchor="middle" class="tk">5</text>
<line x1="478.83" y1="210.2" x2="478.83" y2="214" stroke="#2a2a2a" stroke-width="1.1"/>
<line x1="496.99" y1="210.2" x2="496.99" y2="211.8" stroke="#2a2a2a" stroke-width="1.1"/>
<text x="478.83" y="225.4" text-anchor="middle" class="tk">10</text>
<line x1="515.15" y1="210.2" x2="515.15" y2="214" stroke="#2a2a2a" stroke-width="1.1"/>
<line x1="533.31" y1="210.2" x2="533.31" y2="211.8" stroke="#2a2a2a" stroke-width="1.1"/>
<text x="515.15" y="225.4" text-anchor="middle" class="tk">15</text>
<line x1="551.47" y1="210.2" x2="551.47" y2="214" stroke="#2a2a2a" stroke-width="1.1"/>
<line x1="569.62" y1="210.2" x2="569.62" y2="211.8" stroke="#2a2a2a" stroke-width="1.1"/>
<text x="551.47" y="225.4" text-anchor="middle" class="tk">20</text>
<line x1="587.78" y1="210.2" x2="587.78" y2="214" stroke="#2a2a2a" stroke-width="1.1"/>
<line x1="605.94" y1="210.2" x2="605.94" y2="211.8" stroke="#2a2a2a" stroke-width="1.1"/>
<text x="587.78" y="225.4" text-anchor="middle" class="tk">25</text>
<line x1="624.10" y1="210.2" x2="624.10" y2="214" stroke="#2a2a2a" stroke-width="1.1"/>
<line x1="642.26" y1="210.2" x2="642.26" y2="211.8" stroke="#2a2a2a" stroke-width="1.1"/>
<text x="624.10" y="225.4" text-anchor="middle" class="tk">30</text>
<text x="519.6" y="239.2" class="al">k<tspan dy="3" font-size="7">B</tspan></text>
<g transform="translate(371,118.6) rotate(-90)"><text x="0" y="0" class="al">Δρ<tspan font-size="8" dy="-4.4" dx="-0.3">B</tspan></text></g>
<g transform="translate(373.2,105.4) rotate(-90)"><text x="0" y="0" style="font-size:6.5px" class="al2">∞</text></g>
<path d="M420.5,66.1 420.7,67.5 421.0,68.8 421.2,70.2 421.5,71.6 421.7,72.9 421.9,74.3 422.2,75.7 422.4,77.0 422.7,78.4 422.9,79.7 423.2,81.1 423.4,82.4 423.7,83.8 423.9,85.1 424.2,86.5 424.4,87.8 424.7,89.2 424.9,90.6 425.2,92.0 425.4,93.4 425.7,94.8 425.9,96.2 426.2,97.6 426.4,99.1 426.7,100.5 426.9,101.8 427.1,103.2 427.4,104.5 427.6,105.8 427.9,107.0 428.1,108.3 428.4,109.5 428.6,110.7 428.9,111.9 429.1,113.0 429.4,114.2 429.6,115.3 429.9,116.5 430.1,117.6 430.4,118.7 430.6,119.8 430.8,120.9 431.1,122.0 431.3,123.0 431.6,124.1 431.8,125.1 432.1,126.2 432.3,127.2 432.5,128.2 432.8,129.2 433.0,130.2 433.3,131.2 433.5,132.3 433.8,133.3 434.0,134.3 434.2,135.4 434.5,136.4 434.7,137.5 435.0,138.4 435.2,139.4 435.5,140.3 435.7,141.1 436.0,141.9 436.2,142.7 436.4,143.5 436.7,144.2 436.9,144.9 437.2,145.6 437.4,146.3 437.7,146.9 437.9,147.5 438.2,148.0 438.4,148.6 438.7,149.0 438.9,149.5 439.1,150.0 439.4,150.5 439.6,151.0 439.9,151.4 440.1,151.9 440.4,152.4 440.6,152.8 440.9,153.3 441.1,153.7 441.4,154.1 441.6,154.6 441.9,155.0 442.1,155.3 442.4,155.7 442.6,156.1 442.9,156.5 443.1,156.9 443.4,157.2 443.6,157.6 443.9,158.0 444.1,158.3 444.4,158.7 444.6,159.0 445.6,160.3 446.6,161.5 447.7,162.7 448.7,163.7 449.7,164.7 450.7,165.5 451.7,166.2 452.7,166.9 453.7,167.5 454.7,168.2 455.7,168.9 456.7,169.6 457.7,170.3 458.7,171.0 459.7,171.7 460.7,172.4 461.7,173.1 462.7,173.7 463.8,174.4 464.8,175.0 465.8,175.6 466.8,176.2 467.8,176.7 468.8,177.3 469.8,177.7 470.8,178.1 471.8,178.5 472.8,178.9 473.8,179.3 474.9,179.6 475.9,180.0 476.9,180.3 477.9,180.6 478.9,180.9 479.9,181.1 480.9,181.4 481.9,181.6 482.9,181.9 483.9,182.1 484.9,182.3 485.9,182.5 486.9,182.7 487.9,182.9 488.9,183.1 489.9,183.3 490.9,183.5 491.9,183.7 492.9,183.8 493.9,184.0 494.9,184.2 495.9,184.4 496.9,184.5 497.9,184.7 498.9,184.8 499.9,185.0 501.0,185.1 502.0,185.3 503.0,185.4 504.0,185.5 505.0,185.6 506.0,185.7 507.0,185.8 508.0,185.9 509.0,186.0 510.0,186.1 511.0,186.2 512.0,186.3 513.0,186.4 514.0,186.4 515.0,186.5 516.0,186.6 517.0,186.7 518.0,186.7 519.0,186.8 520.0,186.9 521.0,187.0 522.0,187.0 523.0,187.1 524.0,187.2 525.0,187.2 526.0,187.3 527.0,187.4 528.0,187.4 529.0,187.5 530.0,187.6 531.0,187.6 532.0,187.7 533.0,187.8 534.0,187.8 535.0,187.9 536.0,188.0 537.0,188.1 538.0,188.1 539.0,188.2 540.0,188.3 541.0,188.4 542.0,188.4 543.0,188.5 544.0,188.6 545.0,188.6 546.0,188.7 547.0,188.8 548.0,188.9 549.0,188.9 550.0,189.0 551.0,189.1 552.0,189.1 553.0,189.2 554.0,189.3 555.0,189.3 556.0,189.4 557.0,189.5 558.0,189.5 559.0,189.6 560.0,189.6 561.0,189.7 562.0,189.7 563.0,189.8 564.0,189.8 565.0,189.9 566.0,189.9 567.0,190.0 568.0,190.0 569.0,190.0 570.0,190.1 571.0,190.1 572.0,190.1 573.0,190.2 574.0,190.2 575.0,190.2 576.0,190.3 577.0,190.3 578.0,190.3 579.0,190.4 580.0,190.4 581.0,190.4 582.0,190.5 583.0,190.5 584.0,190.5 585.0,190.5 586.0,190.6 587.0,190.6 588.0,190.6 589.0,190.6 590.0,190.7 591.0,190.7 592.0,190.7 593.0,190.7 594.0,190.8 595.0,190.8 596.0,190.8 597.0,190.8 598.0,190.9 599.0,190.9 600.0,190.9 601.0,191.0 602.0,191.0 603.0,191.0 604.0,191.0 605.0,191.1 606.0,191.1 607.0,191.1 608.0,191.1 609.0,191.1 610.0,191.2 611.0,191.2 612.0,191.2 613.0,191.2 614.0,191.3 615.0,191.3 616.0,191.3 617.0,191.3 618.0,191.4 619.0,191.4 620.0,191.4 621.0,191.4 622.0,191.4 623.0,191.5 624.0,191.5 624.3,191.5" fill="none" stroke="#f04a4a" stroke-width="1"/>
<path d="M420.5,66.1 420.7,67.5 421.0,68.8 421.2,70.2 421.5,71.6 421.7,72.9 422.0,74.3 422.2,75.6 422.5,77.0 422.7,78.4 422.9,79.7 423.2,81.1 423.4,82.4 423.7,83.8 423.9,85.1 424.2,86.5 424.4,87.8 424.7,89.2 424.9,90.6 425.2,92.0 425.4,93.4 425.7,94.8 425.9,96.2 426.2,97.6 426.4,99.1 426.7,100.5 426.9,101.8 427.2,103.2 427.4,104.5 427.7,105.8 427.9,107.0 428.2,108.3 428.4,109.5 428.7,110.7 428.9,111.9 429.1,113.0 429.4,114.2 429.6,115.3 429.9,116.5 430.1,117.6 430.4,118.7 430.6,119.8 430.9,120.9 431.1,122.0 431.4,123.0 431.6,124.1 431.8,125.1 432.1,126.2 432.3,127.2 432.6,128.2 432.8,129.2 433.1,130.2 433.3,131.2 433.6,132.3 433.8,133.3 434.0,134.3 434.3,135.4 434.5,136.4 434.8,137.4 435.0,138.4 435.3,139.4 435.5,140.2 435.8,141.1 436.0,141.9 436.2,142.7 436.5,143.5 436.7,144.2 437.0,144.9 437.2,145.6 437.5,146.3 437.7,146.9 438.0,147.5 438.2,148.0 438.5,148.5 438.7,149.0 439.0,149.5 439.2,150.0 439.4,150.4 439.7,150.9 439.9,151.4 440.2,151.9 440.4,152.3 440.7,152.8 440.9,153.2 441.2,153.7 441.4,154.1 441.7,154.5 441.9,154.9 442.2,155.3 442.4,155.7 442.7,156.1 442.9,156.5 443.2,156.8 443.4,157.2 443.7,157.6 443.9,157.9 444.2,158.3 444.4,158.6 444.7,159.0 445.7,160.2 446.7,161.5 447.7,162.6 448.7,163.7 449.7,164.6 450.8,165.4 451.8,166.1 452.8,166.8 453.8,167.5 454.8,168.1 455.8,168.8 456.8,169.5 457.8,170.2 458.8,170.9 459.8,171.6 460.8,172.3 461.8,173.0 462.8,173.7 463.8,174.3 464.8,174.9 465.8,175.5 466.8,176.1 467.8,176.7 468.8,177.2 469.8,177.7 470.9,178.1 471.9,178.5 472.9,178.9 473.9,179.2 474.9,179.6 475.9,179.9 476.9,180.2 477.9,180.5 478.9,180.8 479.9,181.1 480.9,181.3 481.9,181.6 482.9,181.8 483.9,182.0 484.9,182.2 485.9,182.5 486.9,182.7 487.9,182.9 488.9,183.0 489.9,183.2 490.9,183.4 491.9,183.6 492.9,183.8 493.9,183.9 494.9,184.1 495.9,184.3 497.0,184.5 498.0,184.6 499.0,184.8 500.0,184.9 501.0,185.1 502.0,185.2 503.0,185.3 504.0,185.5 505.0,185.6 506.0,185.7 507.0,185.8 508.0,185.9 509.0,186.0 510.0,186.1 511.0,186.1 512.0,186.2 513.0,186.3 514.0,186.4 515.0,186.5 516.0,186.6 517.0,186.6 518.0,186.7 519.0,186.8 520.0,186.8 521.0,186.9 522.0,187.0 523.0,187.1 524.0,187.1 525.0,187.2 526.0,187.3 527.0,187.3 528.0,187.4 529.0,187.5 530.0,187.5 531.0,187.6 532.0,187.7 533.0,187.7 534.0,187.8 535.0,187.9 536.0,188.0 537.0,188.0 538.0,188.1 539.0,188.2 540.0,188.2 541.0,188.3 542.0,188.4 543.0,188.5 544.0,188.5 545.0,188.6 546.0,188.7 547.0,188.8 548.0,188.8 549.0,188.9 550.0,189.0 551.0,189.0 552.0,189.1 553.0,189.2 554.0,189.2 555.0,189.3 556.0,189.4 557.0,189.4 558.0,189.5 559.0,189.5 560.0,189.6 561.0,189.7 562.0,189.7 563.0,189.8 564.0,189.8 565.0,189.8 566.0,189.9 567.0,189.9 568.0,190.0 569.0,190.0 570.0,190.0 571.0,190.1 572.0,190.1 573.0,190.1 574.0,190.2 575.0,190.2 576.0,190.2 577.0,190.3 578.0,190.3 579.0,190.3 580.0,190.4 581.0,190.4 582.0,190.4 583.0,190.5 584.0,190.5 585.0,190.5 586.0,190.5 587.0,190.6 588.0,190.6 589.0,190.6 590.0,190.6 591.0,190.7 592.0,190.7 593.0,190.7 594.0,190.7 595.0,190.8 596.0,190.8 597.0,190.8 598.0,190.9 599.0,190.9 600.0,190.9 601.0,190.9 602.0,191.0 603.0,191.0 604.0,191.0 605.0,191.0 606.0,191.1 607.0,191.1 608.0,191.1 609.0,191.1 610.0,191.2 611.0,191.2 612.0,191.2 613.0,191.2 614.0,191.2 615.0,191.3 616.0,191.3 617.0,191.3 618.0,191.3 619.0,191.4 620.0,191.4 621.0,191.4 622.0,191.4 623.0,191.4 624.0,191.5 624.3,191.5" fill="none" stroke="#f06060" stroke-width="1"/>
<path d="M420.5,66.1 420.7,67.5 421.0,68.8 421.2,70.2 421.5,71.6 421.7,72.9 422.0,74.3 422.2,75.6 422.5,77.0 422.7,78.4 423.0,79.7 423.2,81.1 423.5,82.4 423.7,83.8 424.0,85.1 424.2,86.5 424.5,87.8 424.7,89.2 425.0,90.6 425.2,91.9 425.5,93.4 425.7,94.8 426.0,96.2 426.2,97.6 426.5,99.1 426.7,100.5 427.0,101.8 427.2,103.2 427.5,104.5 427.7,105.8 428.0,107.0 428.2,108.3 428.5,109.5 428.7,110.7 429.0,111.9 429.2,113.0 429.5,114.2 429.7,115.3 430.0,116.5 430.2,117.6 430.5,118.7 430.7,119.8 430.9,120.9 431.2,122.0 431.4,123.0 431.7,124.1 431.9,125.1 432.2,126.1 432.4,127.2 432.7,128.2 432.9,129.2 433.2,130.2 433.4,131.2 433.7,132.2 433.9,133.3 434.2,134.3 434.4,135.4 434.7,136.4 434.9,137.4 435.2,138.4 435.4,139.3 435.7,140.2 435.9,141.0 436.2,141.8 436.4,142.6 436.6,143.4 436.9,144.1 437.1,144.9 437.4,145.5 437.6,146.2 437.9,146.8 438.1,147.4 438.4,147.9 438.6,148.4 438.9,148.9 439.1,149.4 439.4,149.9 439.6,150.4 439.9,150.8 440.1,151.3 440.4,151.8 440.6,152.2 440.9,152.7 441.1,153.1 441.4,153.6 441.6,154.0 441.9,154.4 442.1,154.8 442.4,155.2 442.6,155.6 442.9,156.0 443.1,156.3 443.4,156.7 443.6,157.1 443.9,157.4 444.1,157.8 444.4,158.1 444.6,158.5 444.9,158.8 445.9,160.1 446.9,161.3 447.9,162.4 448.9,163.5 449.9,164.4 450.9,165.2 451.9,165.9 452.9,166.6 453.9,167.3 454.9,167.9 455.9,168.6 456.9,169.3 457.9,170.0 458.9,170.7 459.9,171.4 460.9,172.1 461.9,172.8 462.9,173.5 463.9,174.1 464.9,174.7 465.9,175.3 466.9,175.9 467.9,176.5 468.9,177.0 469.9,177.4 470.9,177.9 471.9,178.3 472.9,178.6 473.9,179.0 475.0,179.3 476.0,179.7 477.0,180.0 478.0,180.3 479.0,180.6 480.0,180.8 481.0,181.1 482.0,181.4 483.0,181.6 484.0,181.8 485.0,182.0 486.0,182.2 487.0,182.5 488.0,182.7 489.0,182.8 490.0,183.0 491.0,183.2 492.0,183.4 493.0,183.6 494.0,183.8 495.0,183.9 496.0,184.1 497.0,184.3 498.0,184.4 499.0,184.6 500.0,184.8 501.0,184.9 502.0,185.0 503.0,185.2 504.0,185.3 505.0,185.4 506.0,185.5 507.0,185.6 508.0,185.7 509.0,185.8 510.0,185.9 511.0,186.0 512.0,186.1 513.0,186.2 514.0,186.3 515.0,186.3 516.0,186.4 517.0,186.5 518.0,186.6 519.0,186.6 520.0,186.7 521.0,186.8 522.0,186.9 523.0,186.9 524.0,187.0 525.0,187.1 526.0,187.1 527.0,187.2 528.0,187.3 529.0,187.4 530.0,187.4 531.0,187.5 532.0,187.6 533.0,187.6 534.0,187.7 535.0,187.8 536.0,187.8 537.0,187.9 538.0,188.0 539.0,188.1 540.0,188.1 541.0,188.2 542.0,188.3 543.0,188.4 544.0,188.4 545.0,188.5 546.0,188.6 547.0,188.7 548.0,188.7 549.0,188.8 550.0,188.9 551.0,188.9 552.0,189.0 553.0,189.1 554.0,189.1 555.0,189.2 556.0,189.3 557.0,189.3 558.0,189.4 559.0,189.5 560.0,189.5 561.0,189.6 562.0,189.6 563.0,189.7 564.0,189.7 565.0,189.8 566.0,189.8 567.0,189.8 568.0,189.9 569.0,189.9 570.0,190.0 571.0,190.0 572.0,190.0 573.0,190.1 574.0,190.1 575.0,190.1 576.0,190.2 577.0,190.2 578.0,190.2 579.0,190.3 580.0,190.3 581.0,190.3 582.0,190.4 583.0,190.4 584.0,190.4 585.0,190.4 586.0,190.5 587.0,190.5 588.0,190.5 589.0,190.5 590.0,190.6 591.0,190.6 592.0,190.6 593.0,190.7 594.0,190.7 595.0,190.7 596.0,190.7 597.0,190.8 598.0,190.8 599.0,190.8 600.0,190.8 601.0,190.9 602.0,190.9 603.0,190.9 604.0,190.9 605.0,191.0 606.0,191.0 607.0,191.0 608.0,191.1 609.0,191.1 610.0,191.1 611.0,191.1 612.0,191.1 613.0,191.2 614.0,191.2 615.0,191.2 616.0,191.2 617.0,191.3 618.0,191.3 619.0,191.3 620.0,191.3 621.0,191.4 622.0,191.4 623.0,191.4 624.0,191.4 624.3,191.4" fill="none" stroke="#707070" stroke-width="1"/>
<path d="M420.5,66.1 420.8,67.5 421.0,68.8 421.2,70.2 421.5,71.6 421.8,72.9 422.0,74.3 422.2,75.6 422.5,77.0 422.8,78.4 423.0,79.7 423.2,81.1 423.5,82.4 423.8,83.8 424.0,85.1 424.2,86.5 424.5,87.8 424.8,89.2 425.0,90.6 425.2,91.9 425.5,93.4 425.8,94.8 426.0,96.2 426.2,97.6 426.5,99.0 426.8,100.4 427.0,101.8 427.2,103.2 427.5,104.5 427.8,105.8 428.0,107.0 428.2,108.2 428.5,109.5 428.8,110.7 429.0,111.8 429.2,113.0 429.5,114.2 429.8,115.3 430.0,116.4 430.2,117.6 430.5,118.7 430.8,119.8 431.0,120.9 431.2,121.9 431.5,123.0 431.8,124.1 432.0,125.1 432.2,126.1 432.5,127.1 432.8,128.2 433.0,129.2 433.2,130.2 433.5,131.2 433.8,132.2 434.0,133.2 434.2,134.3 434.5,135.3 434.8,136.4 435.0,137.4 435.2,138.4 435.5,139.3 435.8,140.2 436.0,141.0 436.2,141.8 436.5,142.6 436.8,143.4 437.0,144.1 437.2,144.8 437.5,145.5 437.8,146.1 438.0,146.8 438.2,147.3 438.5,147.9 438.8,148.4 439.0,148.9 439.2,149.3 439.5,149.8 439.8,150.3 440.0,150.8 440.2,151.2 440.5,151.7 440.8,152.2 441.0,152.6 441.2,153.1 441.5,153.5 441.8,153.9 442.0,154.3 442.2,154.7 442.5,155.1 442.8,155.5 443.0,155.9 443.2,156.3 443.5,156.6 443.8,157.0 444.0,157.3 444.2,157.7 444.5,158.0 444.8,158.4 445.0,158.7 446.0,160.0 447.0,161.2 448.0,162.3 449.0,163.4 450.0,164.3 451.0,165.1 452.0,165.8 453.0,166.5 454.0,167.1 455.0,167.8 456.0,168.5 457.0,169.2 458.0,169.9 459.0,170.6 460.0,171.3 461.0,172.0 462.0,172.7 463.0,173.3 464.0,174.0 465.0,174.6 466.0,175.2 467.0,175.8 468.0,176.3 469.0,176.8 470.0,177.3 471.0,177.7 472.0,178.1 473.0,178.5 474.0,178.9 475.0,179.2 476.0,179.5 477.0,179.8 478.0,180.1 479.0,180.4 480.0,180.7 481.0,181.0 482.0,181.2 483.0,181.4 484.0,181.7 485.0,181.9 486.0,182.1 487.0,182.3 488.0,182.5 489.0,182.7 490.0,182.9 491.0,183.1 492.0,183.3 493.0,183.5 494.0,183.6 495.0,183.8 496.0,184.0 497.0,184.2 498.0,184.3 499.0,184.5 500.0,184.6 501.0,184.8 502.0,184.9 503.0,185.1 504.0,185.2 505.0,185.3 506.0,185.4 507.0,185.5 508.0,185.6 509.0,185.7 510.0,185.8 511.0,185.9 512.0,186.0 513.0,186.1 514.0,186.2 515.0,186.3 516.0,186.3 517.0,186.4 518.0,186.5 519.0,186.6 520.0,186.6 521.0,186.7 522.0,186.8 523.0,186.9 524.0,186.9 525.0,187.0 526.0,187.1 527.0,187.1 528.0,187.2 529.0,187.3 530.0,187.3 531.0,187.4 532.0,187.5 533.0,187.6 534.0,187.6 535.0,187.7 536.0,187.8 537.0,187.8 538.0,187.9 539.0,188.0 540.0,188.1 541.0,188.1 542.0,188.2 543.0,188.3 544.0,188.4 545.0,188.4 546.0,188.5 547.0,188.6 548.0,188.7 549.0,188.7 550.0,188.8 551.0,188.9 552.0,189.0 553.0,189.0 554.0,189.1 555.0,189.2 556.0,189.2 557.0,189.3 558.0,189.3 559.0,189.4 560.0,189.5 561.0,189.5 562.0,189.6 563.0,189.6 564.0,189.7 565.0,189.7 566.0,189.7 567.0,189.8 568.0,189.8 569.0,189.9 570.0,189.9 571.0,189.9 572.0,190.0 573.0,190.0 574.0,190.0 575.0,190.1 576.0,190.1 577.0,190.1 578.0,190.2 579.0,190.2 580.0,190.2 581.0,190.3 582.0,190.3 583.0,190.3 584.0,190.4 585.0,190.4 586.0,190.4 587.0,190.4 588.0,190.5 589.0,190.5 590.0,190.5 591.0,190.6 592.0,190.6 593.0,190.6 594.0,190.6 595.0,190.7 596.0,190.7 597.0,190.7 598.0,190.7 599.0,190.8 600.0,190.8 601.0,190.8 602.0,190.9 603.0,190.9 604.0,190.9 605.0,190.9 606.0,191.0 607.0,191.0 608.0,191.0 609.0,191.0 610.0,191.1 611.0,191.1 612.0,191.1 613.0,191.1 614.0,191.2 615.0,191.2 616.0,191.2 617.0,191.2 618.0,191.3 619.0,191.3 620.0,191.3 621.0,191.3 622.0,191.3 623.0,191.4 624.0,191.4 624.3,191.4" fill="none" stroke="#a08080" stroke-width="1"/>
<path d="M420.5,66.1 420.8,67.5 421.0,68.8 421.3,70.2 421.5,71.6 421.8,72.9 422.0,74.3 422.3,75.6 422.5,77.0 422.8,78.4 423.0,79.7 423.3,81.1 423.5,82.4 423.8,83.8 424.0,85.1 424.3,86.5 424.5,87.8 424.8,89.2 425.0,90.5 425.3,91.9 425.5,93.3 425.8,94.8 426.0,96.2 426.3,97.6 426.5,99.0 426.8,100.4 427.0,101.8 427.3,103.2 427.5,104.5 427.8,105.8 428.0,107.0 428.3,108.2 428.5,109.5 428.8,110.7 429.0,111.8 429.3,113.0 429.5,114.2 429.8,115.3 430.0,116.4 430.3,117.6 430.5,118.7 430.8,119.8 431.1,120.9 431.3,121.9 431.6,123.0 431.8,124.0 432.1,125.1 432.3,126.1 432.6,127.1 432.8,128.1 433.1,129.1 433.3,130.2 433.6,131.2 433.8,132.2 434.1,133.2 434.3,134.3 434.6,135.3 434.8,136.4 435.1,137.4 435.3,138.3 435.6,139.3 435.8,140.1 436.1,141.0 436.3,141.8 436.6,142.6 436.9,143.3 437.1,144.1 437.4,144.8 437.6,145.5 437.9,146.1 438.1,146.7 438.4,147.3 438.6,147.8 438.9,148.3 439.1,148.8 439.4,149.3 439.6,149.7 439.9,150.2 440.1,150.7 440.4,151.2 440.6,151.6 440.9,152.1 441.1,152.6 441.4,153.0 441.6,153.4 441.9,153.8 442.1,154.2 442.4,154.6 442.6,155.0 442.9,155.4 443.1,155.8 443.4,156.2 443.6,156.5 443.9,156.9 444.1,157.3 444.4,157.6 444.6,158.0 444.9,158.3 445.1,158.6 446.1,159.9 447.1,161.1 448.1,162.2 449.1,163.3 450.1,164.2 451.1,165.0 452.1,165.7 453.1,166.3 454.1,167.0 455.1,167.7 456.1,168.4 457.1,169.1 458.1,169.8 459.1,170.5 460.1,171.2 461.1,171.9 462.1,172.5 463.1,173.2 464.1,173.9 465.1,174.5 466.1,175.1 467.1,175.6 468.1,176.2 469.1,176.7 470.1,177.2 471.1,177.6 472.1,178.0 473.1,178.4 474.1,178.7 475.0,179.1 476.0,179.4 477.0,179.7 478.0,180.0 479.0,180.3 480.0,180.6 481.0,180.8 482.0,181.1 483.0,181.3 484.0,181.5 485.0,181.8 486.0,182.0 487.0,182.2 488.0,182.4 489.0,182.6 490.0,182.8 491.0,183.0 492.0,183.1 493.0,183.3 494.0,183.5 495.0,183.7 496.0,183.9 497.0,184.0 498.0,184.2 499.0,184.4 500.0,184.5 501.0,184.7 502.0,184.8 503.0,185.0 504.0,185.1 505.0,185.2 506.0,185.3 507.0,185.4 508.0,185.5 509.0,185.6 510.0,185.7 511.0,185.8 512.0,185.9 513.0,186.0 514.0,186.1 515.0,186.2 516.0,186.2 517.0,186.3 518.0,186.4 519.0,186.5 520.0,186.6 521.0,186.6 522.0,186.7 523.0,186.8 524.0,186.9 525.0,186.9 526.0,187.0 527.0,187.1 528.0,187.1 529.0,187.2 530.0,187.3 531.0,187.3 532.0,187.4 533.0,187.5 534.0,187.6 535.0,187.6 536.0,187.7 537.0,187.8 538.0,187.8 539.0,187.9 540.0,188.0 541.0,188.1 542.0,188.2 543.0,188.2 544.0,188.3 545.0,188.4 546.0,188.5 547.0,188.5 548.0,188.6 549.0,188.7 550.0,188.7 551.0,188.8 552.0,188.9 553.0,189.0 554.0,189.0 555.0,189.1 556.0,189.2 557.0,189.2 558.0,189.3 559.0,189.3 560.0,189.4 561.0,189.4 562.0,189.5 563.0,189.5 564.0,189.6 565.0,189.6 566.0,189.7 567.0,189.7 568.0,189.8 569.0,189.8 570.0,189.8 571.0,189.9 572.0,189.9 573.0,190.0 574.0,190.0 575.0,190.0 576.0,190.1 577.0,190.1 578.0,190.1 579.0,190.2 580.0,190.2 581.0,190.2 582.0,190.3 583.0,190.3 584.0,190.3 585.0,190.3 586.0,190.4 587.0,190.4 588.0,190.4 589.0,190.5 590.0,190.5 591.0,190.5 592.0,190.5 593.0,190.6 594.0,190.6 595.0,190.6 596.0,190.6 597.0,190.7 598.0,190.7 599.0,190.7 600.0,190.8 601.0,190.8 602.0,190.8 603.0,190.8 604.0,190.9 605.0,190.9 606.0,190.9 607.0,190.9 608.0,191.0 609.0,191.0 610.0,191.0 611.0,191.1 612.0,191.1 613.0,191.1 614.0,191.1 615.0,191.2 616.0,191.2 617.0,191.2 618.0,191.2 619.0,191.2 620.0,191.3 621.0,191.3 622.0,191.3 623.0,191.3 624.0,191.4 624.3,191.4" fill="none" stroke="#ff8840" stroke-width="1"/>
<path d="M420.5,66.1 420.8,67.5 421.0,68.8 421.3,70.2 421.5,71.6 421.8,72.9 422.0,74.3 422.3,75.6 422.5,77.0 422.8,78.4 423.0,79.7 423.3,81.1 423.5,82.4 423.8,83.7 424.0,85.1 424.3,86.5 424.5,87.8 424.8,89.2 425.0,90.5 425.3,91.9 425.5,93.3 425.8,94.8 426.0,96.2 426.3,97.6 426.5,99.0 426.8,100.4 427.1,101.8 427.3,103.2 427.6,104.5 427.8,105.8 428.1,107.0 428.3,108.2 428.6,109.5 428.8,110.6 429.1,111.8 429.3,113.0 429.6,114.2 429.8,115.3 430.1,116.4 430.3,117.6 430.6,118.7 430.8,119.8 431.1,120.9 431.3,121.9 431.6,123.0 431.8,124.0 432.1,125.1 432.3,126.1 432.6,127.1 432.9,128.1 433.1,129.1 433.4,130.1 433.6,131.2 433.9,132.2 434.1,133.2 434.4,134.3 434.6,135.3 434.9,136.3 435.1,137.4 435.4,138.3 435.6,139.3 435.9,140.1 436.1,141.0 436.4,141.8 436.7,142.6 436.9,143.3 437.2,144.1 437.4,144.8 437.7,145.4 437.9,146.1 438.2,146.7 438.4,147.3 438.7,147.8 438.9,148.3 439.2,148.8 439.4,149.2 439.7,149.7 439.9,150.2 440.2,150.7 440.4,151.1 440.7,151.6 440.9,152.1 441.2,152.5 441.4,153.0 441.7,153.4 441.9,153.8 442.2,154.2 442.4,154.6 442.7,155.0 442.9,155.4 443.2,155.8 443.4,156.1 443.7,156.5 443.9,156.9 444.2,157.2 444.4,157.6 444.7,157.9 444.9,158.3 445.2,158.6 446.2,159.9 447.2,161.1 448.2,162.2 449.2,163.2 450.2,164.1 451.1,164.9 452.1,165.6 453.1,166.3 454.1,166.9 455.1,167.6 456.1,168.3 457.1,169.0 458.1,169.7 459.1,170.4 460.1,171.1 461.1,171.8 462.1,172.5 463.1,173.1 464.1,173.8 465.1,174.4 466.1,175.0 467.1,175.6 468.1,176.1 469.1,176.6 470.1,177.1 471.1,177.5 472.1,177.9 473.1,178.3 474.1,178.6 475.1,179.0 476.1,179.3 477.1,179.6 478.1,179.9 479.1,180.2 480.1,180.5 481.1,180.7 482.1,181.0 483.0,181.2 484.0,181.5 485.0,181.7 486.0,181.9 487.0,182.1 488.0,182.3 489.0,182.5 490.0,182.7 491.0,182.9 492.0,183.1 493.0,183.3 494.0,183.5 495.0,183.6 496.0,183.8 497.0,184.0 498.0,184.2 499.0,184.3 500.0,184.5 501.0,184.6 502.0,184.8 503.0,184.9 504.0,185.0 505.0,185.1 506.0,185.3 507.0,185.4 508.0,185.5 509.0,185.6 510.0,185.7 511.0,185.8 512.0,185.9 513.0,185.9 514.0,186.0 515.0,186.1 516.0,186.2 517.0,186.3 518.0,186.4 519.0,186.4 520.0,186.5 521.0,186.6 522.0,186.7 523.0,186.7 524.0,186.8 525.0,186.9 526.0,187.0 527.0,187.0 528.0,187.1 529.0,187.2 530.0,187.2 531.0,187.3 532.0,187.4 533.0,187.4 534.0,187.5 535.0,187.6 536.0,187.7 537.0,187.7 538.0,187.8 539.0,187.9 540.0,188.0 541.0,188.0 542.0,188.1 543.0,188.2 544.0,188.3 545.0,188.3 546.0,188.4 547.0,188.5 548.0,188.6 549.0,188.6 550.0,188.7 551.0,188.8 552.0,188.9 553.0,188.9 554.0,189.0 555.0,189.1 556.0,189.1 557.0,189.2 558.0,189.2 559.0,189.3 560.0,189.4 561.0,189.4 562.0,189.5 563.0,189.5 564.0,189.6 565.0,189.6 566.0,189.7 567.0,189.7 568.0,189.7 569.0,189.8 570.0,189.8 571.0,189.9 572.0,189.9 573.0,189.9 574.0,190.0 575.0,190.0 576.0,190.0 577.0,190.1 578.0,190.1 579.0,190.1 580.0,190.2 581.0,190.2 582.0,190.2 583.0,190.3 584.0,190.3 585.0,190.3 586.0,190.3 587.0,190.4 588.0,190.4 589.0,190.4 590.0,190.5 591.0,190.5 592.0,190.5 593.0,190.5 594.0,190.6 595.0,190.6 596.0,190.6 597.0,190.7 598.0,190.7 599.0,190.7 600.0,190.7 601.0,190.8 602.0,190.8 603.0,190.8 604.0,190.8 605.0,190.9 606.0,190.9 607.0,190.9 608.0,191.0 609.0,191.0 610.0,191.0 611.0,191.0 612.0,191.1 613.0,191.1 614.0,191.1 615.0,191.1 616.0,191.2 617.0,191.2 618.0,191.2 619.0,191.2 620.0,191.3 621.0,191.3 622.0,191.3 623.0,191.3 624.0,191.3 624.3,191.4" fill="none" stroke="#a8b050" stroke-width="1"/>
<path d="M420.5,66.1 420.8,67.5 421.0,68.8 421.3,70.2 421.5,71.6 421.8,72.9 422.0,74.3 422.3,75.6 422.5,77.0 422.8,78.3 423.0,79.7 423.3,81.0 423.5,82.4 423.8,83.7 424.0,85.1 424.3,86.4 424.6,87.8 424.8,89.2 425.1,90.5 425.3,91.9 425.6,93.3 425.8,94.8 426.1,96.2 426.3,97.6 426.6,99.0 426.8,100.4 427.1,101.8 427.3,103.2 427.6,104.5 427.8,105.7 428.1,107.0 428.3,108.2 428.6,109.4 428.8,110.6 429.1,111.8 429.3,113.0 429.6,114.2 429.8,115.3 430.1,116.4 430.3,117.5 430.6,118.7 430.9,119.8 431.1,120.8 431.4,121.9 431.6,123.0 431.9,124.0 432.1,125.1 432.4,126.1 432.6,127.1 432.9,128.1 433.1,129.1 433.4,130.1 433.7,131.2 433.9,132.2 434.2,133.2 434.4,134.2 434.7,135.3 434.9,136.3 435.2,137.3 435.4,138.3 435.7,139.2 435.9,140.1 436.2,140.9 436.4,141.8 436.7,142.5 437.0,143.3 437.2,144.0 437.5,144.7 437.7,145.4 438.0,146.1 438.2,146.7 438.5,147.2 438.7,147.8 439.0,148.3 439.2,148.7 439.5,149.2 439.7,149.7 440.0,150.2 440.2,150.6 440.5,151.1 440.7,151.6 441.0,152.0 441.2,152.5 441.5,152.9 441.7,153.4 442.0,153.8 442.2,154.2 442.5,154.6 442.7,155.0 443.0,155.3 443.2,155.7 443.5,156.1 443.7,156.5 444.0,156.8 444.2,157.2 444.5,157.5 444.7,157.9 445.0,158.2 445.2,158.5 446.2,159.8 447.2,161.0 448.2,162.1 449.2,163.2 450.2,164.1 451.2,164.8 452.2,165.5 453.2,166.2 454.2,166.9 455.2,167.5 456.2,168.2 457.2,169.0 458.2,169.7 459.2,170.4 460.2,171.0 461.2,171.7 462.2,172.4 463.2,173.1 464.2,173.7 465.2,174.3 466.2,174.9 467.2,175.5 468.1,176.1 469.1,176.6 470.1,177.0 471.1,177.4 472.1,177.8 473.1,178.2 474.1,178.6 475.1,178.9 476.1,179.2 477.1,179.6 478.1,179.9 479.1,180.1 480.1,180.4 481.1,180.7 482.1,180.9 483.1,181.2 484.1,181.4 485.1,181.6 486.1,181.8 487.1,182.0 488.1,182.3 489.1,182.4 490.0,182.6 491.0,182.8 492.0,183.0 493.0,183.2 494.0,183.4 495.0,183.6 496.0,183.7 497.0,183.9 498.0,184.1 499.0,184.3 500.0,184.4 501.0,184.6 502.0,184.7 503.0,184.8 504.0,185.0 505.0,185.1 506.0,185.2 507.0,185.3 508.0,185.4 509.0,185.5 510.0,185.6 511.0,185.7 512.0,185.8 513.0,185.9 514.0,186.0 515.0,186.1 516.0,186.2 517.0,186.2 518.0,186.3 519.0,186.4 520.0,186.5 521.0,186.6 522.0,186.6 523.0,186.7 524.0,186.8 525.0,186.8 526.0,186.9 527.0,187.0 528.0,187.1 529.0,187.1 530.0,187.2 531.0,187.3 532.0,187.3 533.0,187.4 534.0,187.5 535.0,187.6 536.0,187.6 537.0,187.7 538.0,187.8 539.0,187.9 540.0,187.9 541.0,188.0 542.0,188.1 543.0,188.2 544.0,188.2 545.0,188.3 546.0,188.4 547.0,188.5 548.0,188.5 549.0,188.6 550.0,188.7 551.0,188.8 552.0,188.8 553.0,188.9 554.0,189.0 555.0,189.0 556.0,189.1 557.0,189.2 558.0,189.2 559.0,189.3 560.0,189.3 561.0,189.4 562.0,189.4 563.0,189.5 564.0,189.5 565.0,189.6 566.0,189.6 567.0,189.7 568.0,189.7 569.0,189.8 570.0,189.8 571.0,189.8 572.0,189.9 573.0,189.9 574.0,189.9 575.0,190.0 576.0,190.0 577.0,190.0 578.0,190.1 579.0,190.1 580.0,190.1 581.0,190.2 582.0,190.2 583.0,190.2 584.0,190.3 585.0,190.3 586.0,190.3 587.0,190.4 588.0,190.4 589.0,190.4 590.0,190.4 591.0,190.5 592.0,190.5 593.0,190.5 594.0,190.5 595.0,190.6 596.0,190.6 597.0,190.6 598.0,190.7 599.0,190.7 600.0,190.7 601.0,190.7 602.0,190.8 603.0,190.8 604.0,190.8 605.0,190.9 606.0,190.9 607.0,190.9 608.0,190.9 609.0,191.0 610.0,191.0 611.0,191.0 612.0,191.0 613.0,191.1 614.0,191.1 615.0,191.1 616.0,191.1 617.0,191.2 618.0,191.2 619.0,191.2 620.0,191.2 621.0,191.3 622.0,191.3 623.0,191.3 624.0,191.3 624.3,191.3" fill="none" stroke="#e0b040" stroke-width="1"/>
<path d="M420.5,66.1 420.8,67.5 421.0,68.8 421.3,70.2 421.5,71.5 421.8,72.9 422.1,74.3 422.3,75.6 422.6,77.0 422.8,78.3 423.1,79.7 423.3,81.0 423.6,82.4 423.8,83.7 424.1,85.1 424.3,86.4 424.6,87.8 424.8,89.2 425.1,90.5 425.3,91.9 425.6,93.3 425.8,94.8 426.1,96.2 426.3,97.6 426.6,99.0 426.8,100.4 427.1,101.8 427.4,103.2 427.6,104.5 427.9,105.7 428.1,107.0 428.4,108.2 428.6,109.4 428.9,110.6 429.1,111.8 429.4,113.0 429.6,114.1 429.9,115.3 430.1,116.4 430.4,117.5 430.6,118.6 430.9,119.7 431.2,120.8 431.4,121.9 431.7,123.0 431.9,124.0 432.2,125.0 432.4,126.1 432.7,127.1 433.0,128.1 433.2,129.1 433.5,130.1 433.7,131.1 434.0,132.1 434.2,133.2 434.5,134.2 434.8,135.3 435.0,136.3 435.3,137.3 435.5,138.3 435.8,139.2 436.0,140.1 436.3,140.9 436.5,141.7 436.8,142.5 437.1,143.3 437.3,144.0 437.6,144.7 437.8,145.4 438.1,146.0 438.3,146.6 438.6,147.2 438.8,147.7 439.1,148.2 439.3,148.7 439.6,149.2 439.9,149.6 440.1,150.1 440.4,150.6 440.6,151.0 440.9,151.5 441.1,152.0 441.4,152.4 441.6,152.9 441.9,153.3 442.1,153.7 442.4,154.1 442.6,154.5 442.9,154.9 443.1,155.3 443.4,155.6 443.6,156.0 443.9,156.4 444.1,156.7 444.4,157.1 444.6,157.4 444.9,157.8 445.1,158.1 445.4,158.4 446.4,159.7 447.4,160.9 448.3,162.0 449.3,163.0 450.3,163.9 451.3,164.7 452.3,165.4 453.3,166.1 454.3,166.7 455.3,167.4 456.3,168.1 457.3,168.8 458.3,169.5 459.3,170.2 460.3,170.9 461.3,171.6 462.3,172.3 463.3,172.9 464.2,173.6 465.2,174.2 466.2,174.8 467.2,175.4 468.2,175.9 469.2,176.4 470.2,176.9 471.2,177.3 472.2,177.7 473.2,178.1 474.2,178.4 475.1,178.8 476.1,179.1 477.1,179.4 478.1,179.7 479.1,180.0 480.1,180.3 481.1,180.5 482.1,180.8 483.1,181.0 484.1,181.3 485.1,181.5 486.1,181.7 487.1,181.9 488.1,182.1 489.1,182.3 490.1,182.5 491.1,182.7 492.1,182.9 493.1,183.1 494.1,183.3 495.1,183.4 496.1,183.6 497.1,183.8 498.1,184.0 499.1,184.1 500.1,184.3 501.0,184.5 502.0,184.6 503.0,184.7 504.0,184.9 505.0,185.0 506.0,185.1 507.0,185.2 508.0,185.3 509.0,185.4 510.0,185.5 511.0,185.6 512.0,185.7 513.0,185.8 514.0,185.9 515.0,186.0 516.0,186.1 517.0,186.2 518.0,186.2 519.0,186.3 520.0,186.4 521.0,186.5 522.0,186.6 523.0,186.6 524.0,186.7 525.0,186.8 526.0,186.8 527.0,186.9 528.0,187.0 529.0,187.1 530.0,187.1 531.0,187.2 532.0,187.3 533.0,187.3 534.0,187.4 535.0,187.5 536.0,187.6 537.0,187.6 538.0,187.7 539.0,187.8 540.0,187.9 541.0,187.9 542.0,188.0 543.0,188.1 544.0,188.2 545.0,188.2 546.0,188.3 547.0,188.4 548.0,188.5 549.0,188.5 550.0,188.6 551.0,188.7 552.0,188.8 553.0,188.8 554.0,188.9 555.0,189.0 556.0,189.0 557.0,189.1 558.0,189.2 559.0,189.2 560.0,189.3 561.0,189.3 562.0,189.4 563.0,189.4 564.0,189.5 565.0,189.5 566.0,189.6 567.0,189.6 568.0,189.7 569.0,189.7 570.0,189.7 571.0,189.8 572.0,189.8 573.0,189.8 574.0,189.9 575.0,189.9 576.0,190.0 577.0,190.0 578.0,190.0 579.0,190.1 580.0,190.1 581.0,190.1 582.0,190.2 583.0,190.2 584.0,190.2 585.0,190.2 586.0,190.3 587.0,190.3 588.0,190.3 589.0,190.4 590.0,190.4 591.0,190.4 592.0,190.4 593.0,190.5 594.0,190.5 595.0,190.5 596.0,190.6 597.0,190.6 598.0,190.6 599.0,190.6 600.0,190.7 601.0,190.7 602.0,190.7 603.0,190.8 604.0,190.8 605.0,190.8 606.0,190.8 607.0,190.9 608.0,190.9 609.0,190.9 610.0,191.0 611.0,191.0 612.0,191.0 613.0,191.0 614.0,191.1 615.0,191.1 616.0,191.1 617.0,191.1 618.0,191.2 619.0,191.2 620.0,191.2 621.0,191.2 622.0,191.3 623.0,191.3 624.0,191.3 624.3,191.3" fill="none" stroke="#b07ce8" stroke-width="1"/>
<path d="M420.5,66.1 420.8,67.5 421.0,68.8 421.3,70.2 421.6,71.5 421.8,72.9 422.1,74.3 422.3,75.6 422.6,77.0 422.8,78.3 423.1,79.7 423.3,81.0 423.6,82.4 423.8,83.7 424.1,85.1 424.3,86.4 424.6,87.8 424.8,89.2 425.1,90.5 425.3,91.9 425.6,93.3 425.9,94.8 426.1,96.2 426.4,97.6 426.6,99.0 426.9,100.4 427.1,101.8 427.4,103.2 427.6,104.5 427.9,105.7 428.1,107.0 428.4,108.2 428.6,109.4 428.9,110.6 429.1,111.8 429.4,113.0 429.6,114.1 429.9,115.3 430.2,116.4 430.4,117.5 430.7,118.6 430.9,119.7 431.2,120.8 431.4,121.9 431.7,123.0 432.0,124.0 432.2,125.0 432.5,126.1 432.7,127.1 433.0,128.1 433.2,129.1 433.5,130.1 433.8,131.1 434.0,132.1 434.3,133.2 434.5,134.2 434.8,135.3 435.1,136.3 435.3,137.3 435.6,138.3 435.8,139.2 436.1,140.1 436.3,140.9 436.6,141.7 436.9,142.5 437.1,143.2 437.4,144.0 437.6,144.7 437.9,145.4 438.1,146.0 438.4,146.6 438.6,147.2 438.9,147.7 439.2,148.2 439.4,148.7 439.7,149.1 439.9,149.6 440.2,150.1 440.4,150.5 440.7,151.0 440.9,151.5 441.2,151.9 441.4,152.4 441.7,152.8 441.9,153.2 442.2,153.7 442.4,154.1 442.7,154.5 442.9,154.8 443.2,155.2 443.4,155.6 443.7,156.0 443.9,156.3 444.2,156.7 444.4,157.1 444.7,157.4 444.9,157.7 445.2,158.1 445.4,158.4 446.4,159.7 447.4,160.9 448.4,162.0 449.4,163.0 450.4,163.9 451.3,164.7 452.3,165.4 453.3,166.0 454.3,166.7 455.3,167.3 456.3,168.1 457.3,168.8 458.3,169.5 459.3,170.2 460.3,170.8 461.3,171.5 462.3,172.2 463.3,172.9 464.3,173.5 465.3,174.1 466.3,174.7 467.3,175.3 468.3,175.9 469.2,176.4 470.2,176.8 471.2,177.2 472.2,177.6 473.2,178.0 474.2,178.4 475.2,178.7 476.2,179.0 477.2,179.3 478.1,179.6 479.1,179.9 480.1,180.2 481.1,180.5 482.1,180.7 483.1,181.0 484.1,181.2 485.1,181.4 486.1,181.6 487.1,181.8 488.1,182.0 489.1,182.2 490.1,182.4 491.1,182.6 492.1,182.8 493.1,183.0 494.1,183.2 495.1,183.4 496.1,183.6 497.1,183.7 498.1,183.9 499.1,184.1 500.1,184.2 501.1,184.4 502.1,184.5 503.0,184.7 504.0,184.8 505.0,184.9 506.0,185.0 507.0,185.2 508.0,185.3 509.0,185.4 510.0,185.5 511.0,185.6 512.0,185.7 513.0,185.8 514.0,185.9 515.0,185.9 516.0,186.0 517.0,186.1 518.0,186.2 519.0,186.3 520.0,186.4 521.0,186.4 522.0,186.5 523.0,186.6 524.0,186.7 525.0,186.7 526.0,186.8 527.0,186.9 528.0,186.9 529.0,187.0 530.0,187.1 531.0,187.2 532.0,187.2 533.0,187.3 534.0,187.4 535.0,187.4 536.0,187.5 537.0,187.6 538.0,187.7 539.0,187.7 540.0,187.8 541.0,187.9 542.0,188.0 543.0,188.1 544.0,188.1 545.0,188.2 546.0,188.3 547.0,188.4 548.0,188.4 549.0,188.5 550.0,188.6 551.0,188.7 552.0,188.7 553.0,188.8 554.0,188.9 555.0,188.9 556.0,189.0 557.0,189.1 558.0,189.1 559.0,189.2 560.0,189.2 561.0,189.3 562.0,189.3 563.0,189.4 564.0,189.4 565.0,189.5 566.0,189.5 567.0,189.6 568.0,189.6 569.0,189.7 570.0,189.7 571.0,189.7 572.0,189.8 573.0,189.8 574.0,189.9 575.0,189.9 576.0,189.9 577.0,190.0 578.0,190.0 579.0,190.0 580.0,190.1 581.0,190.1 582.0,190.1 583.0,190.2 584.0,190.2 585.0,190.2 586.0,190.3 587.0,190.3 588.0,190.3 589.0,190.3 590.0,190.4 591.0,190.4 592.0,190.4 593.0,190.5 594.0,190.5 595.0,190.5 596.0,190.5 597.0,190.6 598.0,190.6 599.0,190.6 600.0,190.7 601.0,190.7 602.0,190.7 603.0,190.7 604.0,190.8 605.0,190.8 606.0,190.8 607.0,190.9 608.0,190.9 609.0,190.9 610.0,190.9 611.0,191.0 612.0,191.0 613.0,191.0 614.0,191.0 615.0,191.1 616.0,191.1 617.0,191.1 618.0,191.1 619.0,191.2 620.0,191.2 621.0,191.2 622.0,191.2 623.0,191.3 624.0,191.3 624.3,191.3" fill="none" stroke="#4cbf80" stroke-width="1"/>
<path d="M420.5,66.1 420.8,67.5 421.1,68.8 421.3,70.2 421.6,71.5 421.8,72.9 422.1,74.3 422.3,75.6 422.6,77.0 422.8,78.3 423.1,79.7 423.3,81.0 423.6,82.4 423.8,83.7 424.1,85.1 424.3,86.4 424.6,87.8 424.9,89.2 425.1,90.5 425.4,91.9 425.6,93.3 425.9,94.8 426.1,96.2 426.4,97.6 426.6,99.0 426.9,100.4 427.1,101.8 427.4,103.1 427.6,104.5 427.9,105.7 428.1,107.0 428.4,108.2 428.7,109.4 428.9,110.6 429.2,111.8 429.4,113.0 429.7,114.1 429.9,115.3 430.2,116.4 430.4,117.5 430.7,118.6 431.0,119.7 431.2,120.8 431.5,121.9 431.7,123.0 432.0,124.0 432.2,125.0 432.5,126.1 432.8,127.1 433.0,128.1 433.3,129.1 433.5,130.1 433.8,131.1 434.1,132.1 434.3,133.2 434.6,134.2 434.8,135.3 435.1,136.3 435.4,137.3 435.6,138.3 435.9,139.2 436.1,140.1 436.4,140.9 436.6,141.7 436.9,142.5 437.2,143.2 437.4,144.0 437.7,144.7 437.9,145.3 438.2,146.0 438.4,146.6 438.7,147.1 439.0,147.7 439.2,148.2 439.5,148.6 439.7,149.1 440.0,149.6 440.2,150.0 440.5,150.5 440.7,151.0 441.0,151.4 441.2,151.9 441.5,152.4 441.7,152.8 442.0,153.2 442.2,153.6 442.5,154.0 442.7,154.4 443.0,154.8 443.2,155.2 443.5,155.6 443.7,155.9 444.0,156.3 444.2,156.7 444.5,157.0 444.7,157.4 445.0,157.7 445.2,158.0 445.5,158.4 446.5,159.6 447.5,160.8 448.5,161.9 449.4,162.9 450.4,163.8 451.4,164.6 452.4,165.3 453.3,165.9 454.4,166.6 455.4,167.3 456.4,168.0 457.4,168.7 458.4,169.4 459.4,170.1 460.4,170.8 461.4,171.5 462.3,172.1 463.3,172.8 464.3,173.5 465.3,174.1 466.3,174.7 467.3,175.2 468.3,175.8 469.3,176.3 470.2,176.7 471.2,177.2 472.2,177.5 473.2,177.9 474.2,178.3 475.2,178.6 476.2,179.0 477.2,179.3 478.2,179.6 479.2,179.8 480.2,180.1 481.1,180.4 482.1,180.6 483.1,180.9 484.1,181.1 485.1,181.3 486.1,181.6 487.1,181.8 488.1,182.0 489.1,182.2 490.1,182.4 491.1,182.6 492.1,182.8 493.1,183.0 494.1,183.1 495.1,183.3 496.1,183.5 497.1,183.7 498.1,183.9 499.1,184.0 500.1,184.2 501.1,184.3 502.1,184.5 503.1,184.6 504.1,184.8 505.0,184.9 506.0,185.0 507.0,185.1 508.0,185.2 509.0,185.3 510.0,185.4 511.0,185.5 512.0,185.6 513.0,185.7 514.0,185.8 515.0,185.9 516.0,186.0 517.0,186.1 518.0,186.2 519.0,186.2 520.0,186.3 521.0,186.4 522.0,186.5 523.0,186.5 524.0,186.6 525.0,186.7 526.0,186.8 527.0,186.8 528.0,186.9 529.0,187.0 530.0,187.0 531.0,187.1 532.0,187.2 533.0,187.3 534.0,187.3 535.0,187.4 536.0,187.5 537.0,187.6 538.0,187.6 539.0,187.7 540.0,187.8 541.0,187.9 542.0,187.9 543.0,188.0 544.0,188.1 545.0,188.2 546.0,188.3 547.0,188.3 548.0,188.4 549.0,188.5 550.0,188.5 551.0,188.6 552.0,188.7 553.0,188.8 554.0,188.8 555.0,188.9 556.0,189.0 557.0,189.0 558.0,189.1 559.0,189.2 560.0,189.2 561.0,189.3 562.0,189.3 563.0,189.4 564.0,189.4 565.0,189.5 566.0,189.5 567.0,189.6 568.0,189.6 569.0,189.6 570.0,189.7 571.0,189.7 572.0,189.8 573.0,189.8 574.0,189.8 575.0,189.9 576.0,189.9 577.0,189.9 578.0,190.0 579.0,190.0 580.0,190.0 581.0,190.1 582.0,190.1 583.0,190.1 584.0,190.2 585.0,190.2 586.0,190.2 587.0,190.3 588.0,190.3 589.0,190.3 590.0,190.3 591.0,190.4 592.0,190.4 593.0,190.4 594.0,190.5 595.0,190.5 596.0,190.5 597.0,190.5 598.0,190.6 599.0,190.6 600.0,190.6 601.0,190.7 602.0,190.7 603.0,190.7 604.0,190.7 605.0,190.8 606.0,190.8 607.0,190.8 608.0,190.9 609.0,190.9 610.0,190.9 611.0,190.9 612.0,191.0 613.0,191.0 614.0,191.0 615.0,191.0 616.0,191.1 617.0,191.1 618.0,191.1 619.0,191.2 620.0,191.2 621.0,191.2 622.0,191.2 623.0,191.2 624.0,191.3 624.3,191.3" fill="none" stroke="#8ed050" stroke-width="1"/>
<path d="M420.6,66.1 420.8,67.5 421.1,68.8 421.3,70.2 421.6,71.5 421.8,72.9 422.1,74.3 422.3,75.6 422.6,77.0 422.8,78.3 423.1,79.7 423.4,81.0 423.6,82.4 423.9,83.7 424.1,85.1 424.4,86.4 424.6,87.8 424.9,89.2 425.1,90.5 425.4,91.9 425.6,93.3 425.9,94.8 426.2,96.2 426.4,97.6 426.7,99.0 426.9,100.4 427.2,101.8 427.4,103.1 427.7,104.5 427.9,105.7 428.2,107.0 428.4,108.2 428.7,109.4 428.9,110.6 429.2,111.8 429.5,113.0 429.7,114.1 430.0,115.3 430.2,116.4 430.5,117.5 430.7,118.6 431.0,119.7 431.3,120.8 431.5,121.9 431.8,122.9 432.0,124.0 432.3,125.0 432.6,126.0 432.8,127.1 433.1,128.1 433.4,129.1 433.6,130.1 433.9,131.1 434.1,132.1 434.4,133.1 434.7,134.2 434.9,135.2 435.2,136.3 435.4,137.3 435.7,138.2 436.0,139.2 436.2,140.0 436.5,140.9 436.7,141.7 437.0,142.4 437.3,143.2 437.5,143.9 437.8,144.6 438.0,145.3 438.3,145.9 438.6,146.5 438.8,147.1 439.1,147.6 439.3,148.1 439.6,148.6 439.8,149.0 440.1,149.5 440.4,150.0 440.6,150.4 440.9,150.9 441.1,151.4 441.4,151.8 441.6,152.3 441.9,152.7 442.1,153.1 442.4,153.5 442.6,153.9 442.9,154.3 443.1,154.7 443.4,155.1 443.6,155.5 443.9,155.8 444.1,156.2 444.4,156.6 444.6,156.9 444.9,157.3 445.1,157.6 445.4,157.9 445.6,158.3 446.6,159.5 447.6,160.7 448.6,161.8 449.6,162.8 450.5,163.7 451.5,164.5 452.5,165.2 453.4,165.8 454.4,166.5 455.4,167.1 456.5,167.9 457.5,168.6 458.5,169.3 459.4,170.0 460.4,170.7 461.4,171.3 462.4,172.0 463.4,172.7 464.4,173.3 465.4,173.9 466.4,174.5 467.4,175.1 468.4,175.6 469.3,176.1 470.3,176.6 471.3,177.0 472.3,177.4 473.3,177.8 474.3,178.1 475.2,178.5 476.2,178.8 477.2,179.1 478.2,179.4 479.2,179.7 480.2,180.0 481.2,180.2 482.2,180.5 483.2,180.7 484.2,181.0 485.1,181.2 486.1,181.4 487.1,181.6 488.1,181.8 489.1,182.1 490.1,182.2 491.1,182.4 492.1,182.6 493.1,182.8 494.1,183.0 495.1,183.2 496.1,183.4 497.1,183.6 498.1,183.7 499.1,183.9 500.1,184.1 501.1,184.2 502.1,184.4 503.1,184.5 504.1,184.6 505.1,184.8 506.1,184.9 507.1,185.0 508.1,185.1 509.0,185.2 510.0,185.3 511.0,185.4 512.0,185.5 513.0,185.6 514.0,185.7 515.0,185.8 516.0,185.9 517.0,186.0 518.0,186.1 519.0,186.2 520.0,186.2 521.0,186.3 522.0,186.4 523.0,186.5 524.0,186.5 525.0,186.6 526.0,186.7 527.0,186.8 528.0,186.8 529.0,186.9 530.0,187.0 531.0,187.0 532.0,187.1 533.0,187.2 534.0,187.3 535.0,187.3 536.0,187.4 537.0,187.5 538.0,187.6 539.0,187.6 540.0,187.7 541.0,187.8 542.0,187.9 543.0,188.0 544.0,188.0 545.0,188.1 546.0,188.2 547.0,188.3 548.0,188.3 549.0,188.4 550.0,188.5 551.0,188.6 552.0,188.6 553.0,188.7 554.0,188.8 555.0,188.8 556.0,188.9 557.0,189.0 558.0,189.0 559.0,189.1 560.0,189.1 561.0,189.2 562.0,189.3 563.0,189.3 564.0,189.4 565.0,189.4 566.0,189.5 567.0,189.5 568.0,189.5 569.0,189.6 570.0,189.6 571.0,189.7 572.0,189.7 573.0,189.7 574.0,189.8 575.0,189.8 576.0,189.9 577.0,189.9 578.0,189.9 579.0,190.0 580.0,190.0 581.0,190.0 582.0,190.1 583.0,190.1 584.0,190.1 585.0,190.1 586.0,190.2 587.0,190.2 588.0,190.2 589.0,190.3 590.0,190.3 591.0,190.3 592.0,190.4 593.0,190.4 594.0,190.4 595.0,190.4 596.0,190.5 597.0,190.5 598.0,190.5 599.0,190.6 600.0,190.6 601.0,190.6 602.0,190.7 603.0,190.7 604.0,190.7 605.0,190.7 606.0,190.8 607.0,190.8 608.0,190.8 609.0,190.9 610.0,190.9 611.0,190.9 612.0,190.9 613.0,191.0 614.0,191.0 615.0,191.0 616.0,191.0 617.0,191.1 618.0,191.1 619.0,191.1 620.0,191.1 621.0,191.2 622.0,191.2 623.0,191.2 624.0,191.2 624.3,191.3" fill="none" stroke="#40d8d8" stroke-width="1"/>
<path d="M420.6,66.1 420.8,67.5 421.1,68.8 421.3,70.2 421.6,71.5 421.9,72.9 422.1,74.3 422.4,75.6 422.6,77.0 422.9,78.3 423.1,79.7 423.4,81.0 423.6,82.4 423.9,83.7 424.2,85.1 424.4,86.4 424.7,87.8 424.9,89.1 425.2,90.5 425.4,91.9 425.7,93.3 425.9,94.7 426.2,96.2 426.5,97.6 426.7,99.0 427.0,100.4 427.2,101.8 427.5,103.1 427.7,104.4 428.0,105.7 428.2,107.0 428.5,108.2 428.8,109.4 429.0,110.6 429.3,111.8 429.5,113.0 429.8,114.1 430.0,115.3 430.3,116.4 430.6,117.5 430.8,118.6 431.1,119.7 431.3,120.8 431.6,121.9 431.9,122.9 432.1,124.0 432.4,125.0 432.7,126.0 432.9,127.0 433.2,128.0 433.5,129.1 433.7,130.1 434.0,131.1 434.3,132.1 434.5,133.1 434.8,134.2 435.1,135.2 435.3,136.2 435.6,137.2 435.8,138.2 436.1,139.1 436.4,140.0 436.6,140.8 436.9,141.6 437.2,142.4 437.4,143.1 437.7,143.9 437.9,144.6 438.2,145.2 438.5,145.9 438.7,146.5 439.0,147.0 439.2,147.5 439.5,148.0 439.8,148.5 440.0,148.9 440.3,149.4 440.5,149.9 440.8,150.3 441.1,150.8 441.3,151.3 441.6,151.7 441.8,152.2 442.1,152.6 442.3,153.0 442.5,153.4 442.8,153.8 443.0,154.2 443.3,154.6 443.5,155.0 443.8,155.4 444.0,155.7 444.3,156.1 444.5,156.4 444.8,156.8 445.0,157.1 445.3,157.5 445.5,157.8 445.8,158.1 446.8,159.4 447.8,160.5 448.7,161.6 449.7,162.6 450.7,163.5 451.6,164.3 452.6,165.0 453.6,165.6 454.6,166.3 455.6,167.0 456.6,167.7 457.6,168.4 458.6,169.1 459.6,169.8 460.6,170.5 461.6,171.1 462.6,171.8 463.6,172.5 464.5,173.1 465.5,173.7 466.5,174.3 467.5,174.9 468.5,175.4 469.4,175.9 470.4,176.4 471.4,176.8 472.4,177.2 473.3,177.6 474.3,177.9 475.3,178.3 476.3,178.6 477.3,178.9 478.3,179.2 479.3,179.5 480.3,179.8 481.2,180.0 482.2,180.3 483.2,180.5 484.2,180.8 485.2,181.0 486.2,181.2 487.2,181.4 488.2,181.6 489.2,181.9 490.2,182.1 491.2,182.3 492.2,182.4 493.1,182.6 494.1,182.8 495.1,183.0 496.1,183.2 497.1,183.4 498.1,183.6 499.1,183.7 500.1,183.9 501.1,184.1 502.1,184.2 503.1,184.4 504.1,184.5 505.1,184.6 506.1,184.7 507.1,184.9 508.1,185.0 509.1,185.1 510.1,185.2 511.1,185.3 512.1,185.4 513.1,185.5 514.0,185.6 515.0,185.7 516.0,185.8 517.0,185.9 518.0,186.0 519.0,186.0 520.0,186.1 521.0,186.2 522.0,186.3 523.0,186.4 524.0,186.4 525.0,186.5 526.0,186.6 527.0,186.6 528.0,186.7 529.0,186.8 530.0,186.9 531.0,186.9 532.0,187.0 533.0,187.1 534.0,187.2 535.0,187.2 536.0,187.3 537.0,187.4 538.0,187.5 539.0,187.5 540.0,187.6 541.0,187.7 542.0,187.8 543.0,187.8 544.0,187.9 545.0,188.0 546.0,188.1 547.0,188.2 548.0,188.2 549.0,188.3 550.0,188.4 551.0,188.5 552.0,188.5 553.0,188.6 554.0,188.7 555.0,188.7 556.0,188.8 557.0,188.9 558.0,188.9 559.0,189.0 560.0,189.1 561.0,189.1 562.0,189.2 563.0,189.2 564.0,189.3 565.0,189.3 566.0,189.4 567.0,189.4 568.0,189.5 569.0,189.5 570.0,189.5 571.0,189.6 572.0,189.6 573.0,189.7 574.0,189.7 575.0,189.7 576.0,189.8 577.0,189.8 578.0,189.8 579.0,189.9 580.0,189.9 581.0,189.9 582.0,190.0 583.0,190.0 584.0,190.0 585.0,190.1 586.0,190.1 587.0,190.1 588.0,190.2 589.0,190.2 590.0,190.2 591.0,190.3 592.0,190.3 593.0,190.3 594.0,190.3 595.0,190.4 596.0,190.4 597.0,190.4 598.0,190.5 599.0,190.5 600.0,190.5 601.0,190.6 602.0,190.6 603.0,190.6 604.0,190.7 605.0,190.7 606.0,190.7 607.0,190.7 608.0,190.8 609.0,190.8 610.0,190.8 611.0,190.9 612.0,190.9 613.0,190.9 614.0,190.9 615.0,191.0 616.0,191.0 617.0,191.0 618.0,191.0 619.0,191.1 620.0,191.1 621.0,191.1 622.0,191.1 623.0,191.2 624.0,191.2 624.3,191.2" fill="none" stroke="#7fb0e0" stroke-width="1"/>
<path d="M420.6,66.1 420.9,67.4 421.1,68.8 421.4,70.2 421.6,71.5 421.9,72.9 422.1,74.3 422.4,75.6 422.7,77.0 422.9,78.3 423.2,79.7 423.4,81.0 423.7,82.4 423.9,83.7 424.2,85.1 424.5,86.4 424.7,87.8 425.0,89.1 425.2,90.5 425.5,91.9 425.7,93.3 426.0,94.7 426.3,96.2 426.5,97.6 426.8,99.0 427.0,100.4 427.3,101.8 427.5,103.1 427.8,104.4 428.1,105.7 428.3,106.9 428.6,108.2 428.8,109.4 429.1,110.6 429.3,111.8 429.6,112.9 429.9,114.1 430.1,115.2 430.4,116.4 430.6,117.5 430.9,118.6 431.2,119.7 431.5,120.8 431.7,121.8 432.0,122.9 432.3,123.9 432.5,125.0 432.8,126.0 433.1,127.0 433.3,128.0 433.6,129.0 433.9,130.0 434.1,131.0 434.4,132.0 434.7,133.1 435.0,134.1 435.2,135.2 435.5,136.2 435.8,137.2 436.0,138.2 436.3,139.1 436.6,139.9 436.8,140.8 437.1,141.6 437.4,142.3 437.6,143.1 437.9,143.8 438.2,144.5 438.4,145.2 438.7,145.8 438.9,146.4 439.2,146.9 439.5,147.4 439.7,147.9 440.0,148.4 440.2,148.8 440.5,149.3 440.8,149.7 441.1,150.2 441.3,150.7 441.6,151.1 441.8,151.6 442.1,152.0 442.3,152.5 442.5,152.9 442.8,153.3 443.0,153.7 443.3,154.1 443.5,154.4 443.8,154.8 444.0,155.2 444.3,155.6 444.5,155.9 444.8,156.3 445.0,156.6 445.3,157.0 445.5,157.3 445.8,157.6 446.0,157.9 447.0,159.2 448.0,160.3 449.0,161.4 449.9,162.4 450.9,163.3 451.8,164.0 452.8,164.7 453.7,165.3 454.7,166.0 455.8,166.7 456.8,167.4 457.8,168.1 458.8,168.8 459.8,169.5 460.8,170.2 461.7,170.9 462.7,171.6 463.7,172.2 464.7,172.9 465.7,173.5 466.7,174.1 467.6,174.6 468.6,175.2 469.6,175.7 470.5,176.1 471.5,176.5 472.5,176.9 473.4,177.3 474.4,177.6 475.4,178.0 476.4,178.3 477.4,178.6 478.4,178.9 479.3,179.2 480.3,179.5 481.3,179.7 482.3,180.0 483.3,180.3 484.3,180.5 485.3,180.7 486.2,181.0 487.2,181.2 488.2,181.4 489.2,181.6 490.2,181.8 491.2,182.0 492.2,182.2 493.2,182.4 494.2,182.6 495.2,182.8 496.2,183.0 497.2,183.2 498.2,183.3 499.2,183.5 500.1,183.7 501.1,183.8 502.1,184.0 503.1,184.1 504.1,184.3 505.1,184.4 506.1,184.5 507.1,184.6 508.1,184.8 509.1,184.9 510.1,185.0 511.1,185.1 512.1,185.2 513.1,185.3 514.1,185.4 515.1,185.5 516.1,185.6 517.1,185.7 518.1,185.8 519.1,185.9 520.1,186.0 521.0,186.0 522.0,186.1 523.0,186.2 524.0,186.3 525.0,186.3 526.0,186.4 527.0,186.5 528.0,186.6 529.0,186.6 530.0,186.7 531.0,186.8 532.0,186.9 533.0,186.9 534.0,187.0 535.0,187.1 536.0,187.2 537.0,187.2 538.0,187.3 539.0,187.4 540.0,187.5 541.0,187.6 542.0,187.6 543.0,187.7 544.0,187.8 545.0,187.9 546.0,187.9 547.0,188.0 548.0,188.1 549.0,188.2 550.0,188.3 551.0,188.3 552.0,188.4 553.0,188.5 554.0,188.5 555.0,188.6 556.0,188.7 557.0,188.7 558.0,188.8 559.0,188.9 560.0,188.9 561.0,189.0 562.0,189.1 563.0,189.1 564.0,189.2 565.0,189.2 566.0,189.3 567.0,189.3 568.0,189.3 569.0,189.4 570.0,189.4 571.0,189.5 572.0,189.5 573.0,189.5 574.0,189.6 575.0,189.6 576.0,189.7 577.0,189.7 578.0,189.7 579.0,189.8 580.0,189.8 581.0,189.8 582.0,189.9 583.0,189.9 584.0,189.9 585.0,190.0 586.0,190.0 587.0,190.0 588.0,190.1 589.0,190.1 590.0,190.1 591.0,190.2 592.0,190.2 593.0,190.2 594.0,190.3 595.0,190.3 596.0,190.3 597.0,190.4 598.0,190.4 599.0,190.4 600.0,190.4 601.0,190.5 602.0,190.5 603.0,190.5 604.0,190.6 605.0,190.6 606.0,190.6 607.0,190.7 608.0,190.7 609.0,190.7 610.0,190.8 611.0,190.8 612.0,190.8 613.0,190.8 614.0,190.9 615.0,190.9 616.0,190.9 617.0,191.0 618.0,191.0 619.0,191.0 620.0,191.0 621.0,191.1 622.0,191.1 623.0,191.1 624.0,191.1 624.3,191.1" fill="none" stroke="#3f7fe0" stroke-width="1"/>
<path d="M420.6,66.1 420.9,67.4 421.1,68.8 421.4,70.2 421.7,71.5 421.9,72.9 422.2,74.2 422.4,75.6 422.7,77.0 423.0,78.3 423.2,79.7 423.5,81.0 423.7,82.4 424.0,83.7 424.3,85.1 424.5,86.4 424.8,87.8 425.0,89.1 425.3,90.5 425.6,91.9 425.8,93.3 426.1,94.7 426.3,96.1 426.6,97.6 426.9,99.0 427.1,100.4 427.4,101.8 427.6,103.1 427.9,104.4 428.2,105.7 428.4,106.9 428.7,108.2 428.9,109.4 429.2,110.6 429.4,111.8 429.7,112.9 430.0,114.1 430.2,115.2 430.5,116.3 430.8,117.5 431.0,118.6 431.3,119.7 431.6,120.7 431.9,121.8 432.1,122.9 432.4,123.9 432.7,124.9 433.0,125.9 433.2,127.0 433.5,128.0 433.8,129.0 434.1,130.0 434.3,131.0 434.6,132.0 434.9,133.0 435.2,134.1 435.4,135.1 435.7,136.1 436.0,137.1 436.3,138.1 436.5,139.0 436.8,139.9 437.1,140.7 437.3,141.5 437.6,142.2 437.9,143.0 438.2,143.7 438.4,144.4 438.7,145.0 439.0,145.7 439.2,146.2 439.5,146.8 439.7,147.3 440.0,147.7 440.3,148.2 440.5,148.7 440.8,149.1 441.1,149.6 441.4,150.0 441.6,150.5 441.9,151.0 442.1,151.4 442.4,151.9 442.6,152.3 442.9,152.7 443.1,153.1 443.3,153.5 443.6,153.9 443.8,154.3 444.1,154.6 444.3,155.0 444.6,155.4 444.8,155.7 445.1,156.1 445.3,156.4 445.6,156.8 445.8,157.1 446.1,157.4 446.3,157.7 447.3,158.9 448.3,160.1 449.3,161.2 450.2,162.1 451.1,163.0 452.1,163.7 453.0,164.4 454.0,165.0 455.0,165.7 456.0,166.4 457.0,167.1 458.0,167.8 459.0,168.5 460.0,169.2 461.0,169.9 462.0,170.6 463.0,171.2 463.9,171.9 464.9,172.5 465.9,173.1 466.9,173.7 467.8,174.3 468.8,174.8 469.7,175.3 470.7,175.8 471.6,176.2 472.6,176.6 473.6,176.9 474.6,177.3 475.5,177.6 476.5,177.9 477.5,178.3 478.5,178.6 479.4,178.8 480.4,179.1 481.4,179.4 482.4,179.6 483.4,179.9 484.3,180.1 485.3,180.4 486.3,180.6 487.3,180.8 488.3,181.0 489.3,181.3 490.3,181.5 491.3,181.7 492.3,181.9 493.3,182.1 494.2,182.3 495.2,182.5 496.2,182.7 497.2,182.9 498.2,183.0 499.2,183.2 500.2,183.4 501.2,183.6 502.2,183.7 503.2,183.9 504.1,184.0 505.1,184.1 506.1,184.3 507.1,184.4 508.1,184.5 509.1,184.6 510.1,184.7 511.1,184.9 512.1,185.0 513.1,185.1 514.1,185.2 515.1,185.3 516.1,185.4 517.1,185.5 518.1,185.6 519.1,185.7 520.1,185.8 521.1,185.8 522.1,185.9 523.1,186.0 524.1,186.1 525.1,186.1 526.1,186.2 527.1,186.3 528.1,186.4 529.1,186.4 530.1,186.5 531.1,186.6 532.1,186.7 533.1,186.7 534.1,186.8 535.1,186.9 536.1,187.0 537.1,187.1 538.1,187.1 539.1,187.2 540.1,187.3 541.1,187.4 542.1,187.5 543.1,187.5 544.1,187.6 545.1,187.7 546.1,187.8 547.1,187.9 548.1,187.9 549.1,188.0 550.1,188.1 551.0,188.2 552.0,188.2 553.0,188.3 554.0,188.4 555.0,188.5 556.0,188.5 557.0,188.6 558.0,188.7 559.0,188.7 560.0,188.8 561.0,188.8 562.0,188.9 563.0,189.0 564.0,189.0 565.0,189.1 566.0,189.1 567.0,189.2 568.0,189.2 569.0,189.2 570.0,189.3 571.0,189.3 572.0,189.4 573.0,189.4 574.0,189.5 575.0,189.5 576.0,189.5 577.0,189.6 578.0,189.6 579.0,189.6 580.0,189.7 581.0,189.7 582.0,189.8 583.0,189.8 584.0,189.8 585.0,189.9 586.0,189.9 587.0,189.9 588.0,190.0 589.0,190.0 590.0,190.0 591.0,190.1 592.0,190.1 593.0,190.1 594.0,190.1 595.0,190.2 596.0,190.2 597.0,190.2 598.0,190.3 599.0,190.3 600.0,190.3 601.0,190.4 602.0,190.4 603.0,190.4 604.0,190.5 605.0,190.5 606.0,190.5 607.0,190.6 608.0,190.6 609.0,190.6 610.0,190.7 611.0,190.7 612.0,190.7 613.0,190.7 614.0,190.8 615.0,190.8 616.0,190.8 617.0,190.9 618.0,190.9 619.0,190.9 620.0,191.0 621.0,191.0 622.0,191.0 623.0,191.0 624.0,191.1 624.3,191.1" fill="none" stroke="#3f7fe0" stroke-width="1"/>
<path d="M420.4,66.1 420.6,67.5 420.8,68.9 421.1,70.2 421.3,71.6 421.6,73.0 421.8,74.3 422.0,75.7 422.3,77.0 422.5,78.4 422.8,79.8 423.0,81.1 423.2,82.5 423.5,83.8 423.7,85.2 424.0,86.5 424.2,87.9 424.4,89.2 424.7,90.6 424.9,92.0 425.2,93.4 425.4,94.8 425.6,96.3 425.9,97.7 426.1,99.1 426.4,100.5 426.6,101.9 426.8,103.3 427.1,104.6 427.3,105.8 427.6,107.1 427.8,108.3 428.0,109.6 428.3,110.8 428.5,111.9 428.8,113.1 429.0,114.3 429.2,115.4 429.5,116.6 429.7,117.7 429.9,118.8 430.1,119.9 430.4,121.0 430.6,122.1 430.8,123.2 431.0,124.2 431.3,125.3 431.5,126.3 431.7,127.3 431.9,128.4 432.1,129.4 432.4,130.4 432.6,131.4 432.8,132.4 433.0,133.5 433.3,134.5 433.5,135.6 433.7,136.6 433.9,137.7 434.1,138.7 434.4,139.6 434.6,140.5 434.8,141.4 435.1,142.2 435.3,143.0 435.5,143.8 435.7,144.5 436.0,145.3 436.2,146.0 436.4,146.7 436.7,147.3 436.9,147.9 437.1,148.5 437.4,149.1 437.6,149.6 437.8,150.1 438.1,150.6 438.3,151.1 438.5,151.5 438.8,152.0 439.0,152.5 439.3,153.0 439.5,153.5 439.8,153.9 440.0,154.4 440.3,154.8 440.5,155.2 440.8,155.6 441.0,156.1 441.3,156.5 441.5,156.8 441.8,157.2 442.0,157.6 442.3,158.0 442.5,158.4 442.8,158.7 443.1,159.1 443.3,159.5 443.6,159.8 444.6,161.1 445.6,162.4 446.6,163.6 447.7,164.7 448.7,165.8 449.8,166.6 450.9,167.4 452.0,168.1 452.9,168.7 453.9,169.4 454.9,170.1 455.9,170.8 456.9,171.5 457.9,172.2 458.9,172.9 459.9,173.5 461.0,174.2 462.0,174.9 463.0,175.6 464.0,176.2 465.1,176.8 466.1,177.4 467.1,178.0 468.2,178.5 469.3,179.0 470.3,179.4 471.3,179.8 472.4,180.2 473.4,180.6 474.4,180.9 475.4,181.3 476.5,181.6 477.5,181.9 478.5,182.2 479.5,182.4 480.6,182.7 481.6,182.9 482.6,183.1 483.6,183.4 484.6,183.6 485.7,183.8 486.7,183.9 487.7,184.1 488.7,184.3 489.7,184.5 490.7,184.6 491.7,184.8 492.7,185.0 493.7,185.1 494.7,185.3 495.8,185.4 496.8,185.6 497.8,185.7 498.8,185.9 499.8,186.0 500.8,186.1 501.8,186.3 502.8,186.4 503.8,186.5 504.9,186.6 505.9,186.7 506.9,186.7 507.9,186.8 508.9,186.9 509.9,187.0 510.9,187.0 511.9,187.1 512.9,187.2 513.9,187.3 514.9,187.3 515.9,187.4 516.9,187.4 517.9,187.5 518.9,187.5 519.9,187.6 520.9,187.7 521.9,187.7 522.9,187.8 523.9,187.9 524.9,187.9 525.9,188.0 526.9,188.1 527.9,188.1 528.9,188.2 529.9,188.2 530.9,188.3 531.9,188.4 532.9,188.4 533.9,188.5 534.9,188.6 535.9,188.6 536.9,188.7 537.9,188.8 538.9,188.8 539.9,188.9 540.9,189.0 541.9,189.1 542.9,189.1 543.9,189.2 544.9,189.3 545.9,189.3 546.9,189.4 547.9,189.5 548.9,189.5 549.9,189.6 550.9,189.7 551.9,189.7 552.9,189.8 553.9,189.8 555.0,189.9 556.0,190.0 557.0,190.0 558.0,190.1 559.0,190.1 560.0,190.2 561.0,190.2 562.0,190.3 563.0,190.3 564.0,190.4 565.0,190.4 566.0,190.4 567.0,190.5 568.0,190.5 569.0,190.5 570.0,190.6 571.0,190.6 572.0,190.6 573.0,190.7 574.0,190.7 575.0,190.7 576.0,190.8 577.0,190.8 578.0,190.8 579.0,190.8 580.0,190.9 581.0,190.9 582.0,190.9 583.0,190.9 584.0,191.0 585.0,191.0 586.0,191.0 587.0,191.0 588.0,191.0 589.0,191.1 590.0,191.1 591.0,191.1 592.0,191.1 593.0,191.1 594.0,191.2 595.0,191.2 596.0,191.2 597.0,191.2 598.0,191.3 599.0,191.3 600.0,191.3 601.0,191.3 602.0,191.3 603.0,191.4 604.0,191.4 605.0,191.4 606.0,191.4 607.0,191.4 608.0,191.5 609.0,191.5 610.0,191.5 611.0,191.5 612.0,191.5 613.0,191.6 614.0,191.6 615.0,191.6 616.0,191.6 617.0,191.6 618.0,191.7 619.0,191.7 620.0,191.7 621.0,191.7 622.0,191.7 623.0,191.7 624.0,191.8 624.3,191.8" fill="none" stroke="#484848" stroke-width="0.9"/>
<line x1="644" y1="19.5" x2="685" y2="19.5" stroke="#6a6a6a" stroke-width="1.1"/>
<line x1="684" y1="19.5" x2="684" y2="197.5" stroke="#d0d0d0" stroke-width="0.9"/>
<line x1="644" y1="197.5" x2="684" y2="197.5" stroke="#e0e0e0" stroke-width="0.9"/>
<text x="659.6" y="14" class="lg">k<tspan dy="3.2" font-size="6.5">A</tspan></text>
<line x1="645.2" y1="24.90" x2="667.3" y2="24.90" stroke="#bdbdbd" stroke-width="1.8"/>
<text x="672.3" y="28.60" class="lg">2</text>
<line x1="645.2" y1="36.72" x2="667.3" y2="36.72" stroke="#f04a4a" stroke-width="1.2"/>
<text x="672.3" y="40.42" class="lg">4</text>
<line x1="645.2" y1="48.54" x2="667.3" y2="48.54" stroke="#3f7fe0" stroke-width="1.2"/>
<text x="672.3" y="52.24" class="lg">6</text>
<line x1="645.2" y1="60.36" x2="667.3" y2="60.36" stroke="#4cbf80" stroke-width="1.2"/>
<text x="672.3" y="64.06" class="lg">8</text>
<line x1="645.2" y1="72.18" x2="667.3" y2="72.18" stroke="#b07ce8" stroke-width="1.2"/>
<text x="672.3" y="75.88" class="lg">10</text>
<line x1="645.2" y1="84.00" x2="667.3" y2="84.00" stroke="#e0b040" stroke-width="1.2"/>
<text x="672.3" y="87.70" class="lg">12</text>
<line x1="645.2" y1="95.82" x2="667.3" y2="95.82" stroke="#40d8d8" stroke-width="1.2"/>
<text x="672.3" y="99.52" class="lg">14</text>
<line x1="645.2" y1="107.64" x2="667.3" y2="107.64" stroke="#b09090" stroke-width="1.2"/>
<text x="672.3" y="111.34" class="lg">16</text>
<line x1="645.2" y1="119.46" x2="667.3" y2="119.46" stroke="#a8b050" stroke-width="1.2"/>
<text x="672.3" y="123.16" class="lg">18</text>
<line x1="645.2" y1="131.28" x2="667.3" y2="131.28" stroke="#ff8840" stroke-width="1.2"/>
<text x="672.3" y="134.98" class="lg">20</text>
<line x1="645.2" y1="143.10" x2="667.3" y2="143.10" stroke="#7fb0e0" stroke-width="1.2"/>
<text x="672.3" y="146.80" class="lg">22</text>
<line x1="645.2" y1="154.92" x2="667.3" y2="154.92" stroke="#8ed050" stroke-width="1.2"/>
<text x="672.3" y="158.62" class="lg">24</text>
<line x1="645.2" y1="166.74" x2="667.3" y2="166.74" stroke="#6a6a6a" stroke-width="1.2"/>
<text x="672.3" y="170.44" class="lg">26</text>
<line x1="645.2" y1="178.56" x2="667.3" y2="178.56" stroke="#f05a5a" stroke-width="1.2"/>
<text x="672.3" y="182.26" class="lg">28</text>
<line x1="645.2" y1="190.38" x2="667.3" y2="190.38" stroke="#3f7fe0" stroke-width="1.2"/>
<text x="672.3" y="194.08" class="lg">30</text>
<text x="90.2" y="273" class="cap">(a)</text>
<text x="112.8" y="273" class="cap">Variation</text>
<text x="179.2" y="273" class="cap">of</text>
<text transform="translate(199.50,273) scale(1.09,0.97)" class="cap">Δ</text>
<text transform="translate(209.30,273) scale(1.27,1)" class="cap" style="font-style:italic;stroke-width:0.05px">ρ</text>
<text x="220.00" y="265.9" class="cap" style="font-style:italic;font-size:9px;stroke-width:0.08px">A</text>
<text x="218.50" y="277.6" class="cap" style="font-size:10.5px;stroke-width:0.05px">∞</text>
<text x="436.7" y="273" class="cap">(b)</text>
<text x="461.3" y="273" class="cap">Variation</text>
<text x="526.7" y="273" class="cap">of</text>
<text transform="translate(547.50,273) scale(1.09,0.97)" class="cap">Δ</text>
<text transform="translate(557.30,273) scale(1.27,1)" class="cap" style="font-style:italic;stroke-width:0.05px">ρ</text>
<text x="568.00" y="265.9" class="cap" style="font-style:italic;font-size:9px;stroke-width:0.08px">B</text>
<text x="566.50" y="277.6" class="cap" style="font-size:10.5px;stroke-width:0.05px">∞</text>
</svg>
</body></html>
